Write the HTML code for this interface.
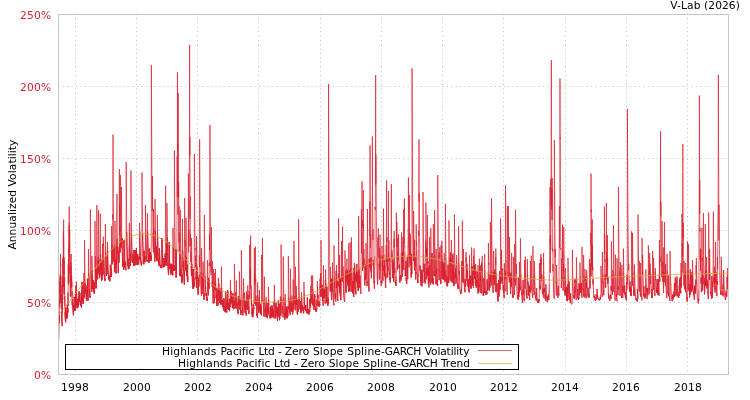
<!DOCTYPE html>
<html lang="en"><head><meta charset="utf-8"><title>Highlands Pacific Ltd - Zero Slope Spline-GARCH Volatility</title>
<style>html,body{margin:0;padding:0;background:#fff;}body{width:750px;height:400px;overflow:hidden;}svg{display:block;}</style>
</head><body>
<svg width="750" height="400" viewBox="0 0 750 400" font-family="'DejaVu Sans', 'Liberation Sans', sans-serif" font-size="10.67px">
<rect width="750" height="400" fill="#fff"/>
<g stroke="#c0c0c0" stroke-width="1" stroke-dasharray="1 3.367" fill="none"><line x1="58.3" y1="302.5" x2="728" y2="302.5"/><line x1="58.3" y1="230.5" x2="728" y2="230.5"/><line x1="58.3" y1="158.5" x2="728" y2="158.5"/><line x1="58.3" y1="86.5" x2="728" y2="86.5"/><line x1="75.5" y1="13.6" x2="75.5" y2="374" stroke-dasharray="1 3.4"/><line x1="136.5" y1="13.6" x2="136.5" y2="374" stroke-dasharray="1 3.4"/><line x1="197.5" y1="13.6" x2="197.5" y2="374" stroke-dasharray="1 3.4"/><line x1="258.5" y1="13.6" x2="258.5" y2="374" stroke-dasharray="1 3.4"/><line x1="320.5" y1="13.6" x2="320.5" y2="374" stroke-dasharray="1 3.4"/><line x1="381.5" y1="13.6" x2="381.5" y2="374" stroke-dasharray="1 3.4"/><line x1="442.5" y1="13.6" x2="442.5" y2="374" stroke-dasharray="1 3.4"/><line x1="503.5" y1="13.6" x2="503.5" y2="374" stroke-dasharray="1 3.4"/><line x1="565.5" y1="13.6" x2="565.5" y2="374" stroke-dasharray="1 3.4"/><line x1="626.5" y1="13.6" x2="626.5" y2="374" stroke-dasharray="1 3.4"/><line x1="687.5" y1="13.6" x2="687.5" y2="374" stroke-dasharray="1 3.4"/></g>
<path d="M58.50 340.0 58.62 339.4 58.74 331.0 58.87 321.5 58.99 318.2 59.11 322.9 59.23 312.8 59.35 320.6 59.47 300.0 59.60 307.3 59.72 281.9 59.84 293.5 59.96 277.3 60.08 303.1 60.20 274.4 60.33 303.3 60.45 254.0 60.57 266.2 60.69 263.9 60.81 285.8 60.93 276.0 61.06 300.1 61.18 285.3 61.30 308.7 61.42 294.3 61.54 314.4 61.67 311.1 61.79 321.6 61.91 323.2 62.03 324.4 62.15 325.4 62.27 326.2 62.40 298.2 62.52 312.2 62.64 278.2 62.76 300.0 62.88 258.8 63.00 293.7 63.13 256.7 63.25 287.2 63.37 231.7 63.49 262.8 63.61 219.6 63.74 235.9 63.86 240.5 63.98 262.3 64.10 257.5 64.22 275.4 64.34 260.7 64.47 294.6 64.59 276.6 64.71 306.4 64.83 295.9 64.95 312.2 65.07 315.7 65.20 317.7 65.32 319.3 65.44 320.5 65.56 321.5 65.68 322.2 65.80 307.3 65.93 312.0 66.05 315.3 66.17 313.6 66.29 316.6 66.41 312.5 66.54 315.8 66.66 318.2 66.78 316.3 66.90 318.5 67.02 310.5 67.14 313.9 67.27 316.6 67.39 303.8 67.51 309.0 67.63 312.9 67.75 308.5 67.87 312.4 68.00 292.5 68.12 305.9 68.24 263.7 68.36 283.1 68.48 258.3 68.61 284.8 68.73 247.4 68.85 257.3 68.97 224.5 69.09 253.8 69.21 206.4 69.34 223.9 69.46 222.8 69.58 252.2 69.70 229.9 69.82 273.2 69.94 254.2 70.07 282.5 70.19 266.1 70.31 296.2 70.43 283.7 70.55 296.7 70.67 274.1 70.80 295.7 70.92 262.6 71.04 288.0 71.16 254.0 71.28 264.9 71.41 271.1 71.53 282.0 71.65 275.7 71.77 287.2 71.89 282.2 72.01 297.8 72.14 291.0 72.26 304.9 72.38 299.2 72.50 306.3 72.62 304.6 72.74 303.1 72.87 307.1 72.99 310.0 73.11 312.0 73.23 313.5 73.35 314.6 73.48 315.3 73.60 305.7 73.72 306.0 73.84 308.9 73.96 310.9 74.08 307.7 74.21 296.9 74.33 299.6 74.45 304.2 74.57 306.9 74.69 308.9 74.81 305.8 74.94 308.5 75.06 310.7 75.18 307.9 75.30 307.1 75.42 308.6 75.54 294.3 75.67 285.5 75.79 291.3 75.91 294.5 76.03 299.6 76.15 302.9 76.28 305.3 76.40 281.6 76.52 290.0 76.64 296.4 76.76 299.3 76.88 303.2 77.01 306.1 77.13 308.2 77.25 304.6 77.37 299.3 77.49 303.0 77.61 305.1 77.74 301.6 77.86 303.2 77.98 305.6 78.10 307.3 78.22 306.8 78.35 304.4 78.47 305.8 78.59 301.8 78.71 296.2 78.83 300.2 78.95 299.3 79.08 291.4 79.20 296.6 79.32 298.3 79.44 301.7 79.56 300.3 79.68 301.7 79.81 293.0 79.93 297.6 80.05 300.3 80.17 302.9 80.29 304.8 80.41 304.2 80.54 305.7 80.66 304.7 80.78 305.9 80.90 300.4 81.02 302.8 81.15 304.6 81.27 305.9 81.39 306.8 81.51 307.5 81.63 292.3 81.75 294.8 81.88 292.9 82.00 282.1 82.12 289.3 82.24 294.7 82.36 298.7 82.48 301.6 82.61 300.6 82.73 296.1 82.85 299.0 82.97 301.8 83.09 303.9 83.22 303.4 83.34 301.7 83.46 302.7 83.58 299.0 83.70 293.8 83.82 281.4 83.95 273.1 84.07 282.2 84.19 288.8 84.31 294.0 84.43 297.8 84.55 240.0 84.68 251.6 84.80 261.4 84.92 269.7 85.04 276.6 85.16 282.3 85.28 287.1 85.41 290.9 85.53 294.0 85.65 287.4 85.77 291.8 85.89 285.6 86.02 291.1 86.14 293.6 86.26 296.9 86.38 299.3 86.50 294.2 86.62 297.2 86.75 299.4 86.87 300.9 86.99 290.8 87.11 294.6 87.23 296.4 87.35 294.1 87.48 278.0 87.60 284.1 87.72 289.4 87.84 293.3 87.96 296.1 88.09 298.1 88.21 299.5 88.33 300.5 88.45 249.0 88.57 258.6 88.69 266.6 88.82 273.3 88.94 278.8 89.06 283.3 89.18 286.9 89.30 289.8 89.42 292.1 89.55 293.9 89.67 295.3 89.79 296.3 89.91 297.1 90.03 295.9 90.15 297.1 90.28 297.9 90.40 209.6 90.52 224.6 90.64 237.4 90.76 248.3 90.89 257.5 91.01 265.2 91.13 271.6 91.25 277.0 91.37 281.3 91.49 284.8 91.62 287.7 91.74 290.0 91.86 291.8 91.98 256.0 92.10 263.9 92.22 270.5 92.35 276.0 92.47 280.4 92.59 284.0 92.71 287.0 92.83 289.3 92.96 281.6 93.08 285.0 93.20 287.7 93.32 280.1 93.44 283.9 93.56 287.5 93.69 290.5 93.81 291.7 93.93 291.0 94.05 292.5 94.17 291.6 94.29 292.3 94.42 293.8 94.54 282.2 94.66 285.0 94.78 288.5 94.90 285.5 95.02 221.0 95.15 263.2 95.27 268.5 95.39 256.1 95.51 273.7 95.63 269.0 95.76 274.9 95.88 279.7 96.00 285.1 96.12 288.4 96.24 274.8 96.36 283.0 96.49 268.6 96.61 244.1 96.73 233.6 96.85 205.0 96.97 233.1 97.09 232.6 97.22 247.1 97.34 260.7 97.46 270.2 97.58 279.3 97.70 270.5 97.83 274.3 97.95 270.2 98.07 257.2 98.19 271.2 98.31 260.9 98.43 210.0 98.56 222.7 98.68 235.7 98.80 252.7 98.92 272.5 99.04 266.7 99.16 270.0 99.29 271.6 99.41 272.9 99.53 278.1 99.65 277.1 99.77 268.4 99.89 269.2 100.02 258.7 100.14 246.1 100.26 213.6 100.38 226.3 100.50 258.1 100.63 254.0 100.75 269.8 100.87 259.3 100.99 274.6 101.11 269.5 101.23 273.4 101.36 276.5 101.48 279.0 101.60 280.9 101.72 263.3 101.84 268.2 101.96 272.1 102.09 272.4 102.21 276.5 102.33 279.5 102.45 244.0 102.57 252.0 102.70 258.6 102.82 264.0 102.94 268.3 103.06 271.8 103.18 274.5 103.30 236.7 103.43 245.7 103.55 243.0 103.67 250.9 103.79 257.5 103.91 262.9 104.03 267.3 104.16 270.8 104.28 273.7 104.40 276.0 104.52 277.9 104.64 279.2 104.76 280.5 104.89 279.1 105.01 278.9 105.13 279.0 105.25 280.5 105.37 224.0 105.50 235.0 105.62 244.3 105.74 252.0 105.86 258.4 105.98 263.6 106.10 267.7 106.23 271.1 106.35 273.7 106.47 275.8 106.59 269.7 106.71 265.5 106.83 270.6 106.96 274.1 107.08 271.7 107.20 256.5 107.32 261.8 107.44 242.0 107.57 249.8 107.69 256.3 107.81 261.5 107.93 265.8 108.05 269.2 108.17 271.9 108.30 274.1 108.42 275.8 108.54 277.2 108.66 278.4 108.78 279.3 108.90 279.4 109.03 280.1 109.15 278.4 109.27 276.7 109.39 278.5 109.51 278.5 109.63 279.6 109.76 280.5 109.88 281.3 110.00 275.8 110.12 275.4 110.24 277.3 110.37 264.8 110.49 268.0 110.61 272.3 110.73 274.3 110.85 267.4 110.97 271.8 111.10 274.7 111.22 273.6 111.34 276.1 111.46 276.9 111.58 226.0 111.70 236.3 111.83 244.9 111.95 252.0 112.07 264.3 112.19 260.1 112.31 256.0 112.43 248.7 112.56 236.5 112.68 214.4 112.80 219.1 112.92 182.0 113.04 134.6 113.17 176.0 113.29 199.6 113.41 201.8 113.53 222.7 113.65 234.4 113.77 255.6 113.90 261.4 114.02 246.8 114.14 260.1 114.26 256.1 114.38 267.0 114.50 272.1 114.63 258.6 114.75 260.0 114.87 244.7 114.99 221.0 115.11 233.8 115.24 259.4 115.36 259.3 115.48 262.5 115.60 264.2 115.72 262.7 115.84 266.7 115.97 273.2 116.09 273.5 116.21 267.0 116.33 267.6 116.45 264.8 116.57 242.7 116.70 236.1 116.82 235.2 116.94 194.0 117.06 227.2 117.18 238.8 117.30 249.7 117.43 247.9 117.55 249.7 117.67 252.8 117.79 251.2 117.91 259.5 118.04 263.5 118.16 263.6 118.28 272.7 118.40 268.6 118.52 263.4 118.64 258.5 118.77 251.8 118.89 262.5 119.01 248.1 119.13 246.8 119.25 236.0 119.37 169.0 119.50 235.0 119.62 202.9 119.74 227.1 119.86 244.6 119.98 251.5 120.11 252.4 120.23 242.3 120.35 175.0 120.47 214.8 120.59 232.2 120.71 234.4 120.84 244.7 120.96 242.1 121.08 246.9 121.20 241.0 121.32 247.6 121.44 187.0 121.57 206.1 121.69 239.8 121.81 243.1 121.93 238.0 122.05 240.1 122.17 246.8 122.30 252.2 122.42 256.6 122.54 260.0 122.66 262.7 122.78 264.8 122.91 266.5 123.03 260.4 123.15 262.7 123.27 265.4 123.39 267.0 123.51 268.5 123.64 268.6 123.76 269.8 123.88 266.7 124.00 240.0 124.12 246.5 124.24 251.8 124.37 256.2 124.49 259.7 124.61 262.5 124.73 264.8 124.85 266.5 124.98 261.8 125.10 265.1 125.22 267.6 125.34 261.9 125.46 265.3 125.58 267.8 125.71 268.2 125.83 269.8 125.95 270.0 126.07 270.3 126.19 162.0 126.31 180.9 126.44 197.1 126.56 210.8 126.68 222.4 126.80 232.0 126.92 240.0 127.04 246.6 127.17 250.1 127.29 254.8 127.41 258.6 127.53 261.7 127.65 264.1 127.78 266.0 127.90 258.6 128.02 262.7 128.14 265.3 128.26 267.6 128.38 269.1 128.51 262.1 128.63 264.7 128.75 265.4 128.87 266.8 128.99 268.5 129.11 267.7 129.24 245.6 129.36 223.0 129.48 232.4 129.60 240.2 129.72 246.6 129.85 251.8 129.97 256.1 130.09 259.4 130.21 262.2 130.33 264.3 130.45 266.0 130.58 253.8 130.70 257.6 130.82 261.1 130.94 170.4 131.06 187.9 131.18 202.7 131.31 215.2 131.43 225.6 131.55 234.3 131.67 241.4 131.79 247.2 131.91 251.9 132.04 255.6 132.16 258.6 132.28 260.9 132.40 262.8 132.52 254.5 132.65 257.3 132.77 260.5 132.89 263.0 133.01 256.6 133.13 257.9 133.25 261.0 133.38 262.5 133.50 262.8 133.62 264.0 133.74 265.2 133.86 266.0 133.98 250.0 134.11 253.9 134.23 257.0 134.35 259.5 134.47 261.5 134.59 263.0 134.72 264.3 134.84 265.3 134.96 263.5 135.08 265.0 135.20 263.2 135.32 261.5 135.45 250.4 135.57 255.7 135.69 259.4 135.81 260.8 135.93 263.2 136.05 264.8 136.18 259.6 136.30 257.8 136.42 248.0 136.54 252.1 136.66 255.5 136.78 258.1 136.91 260.2 137.03 261.8 137.15 263.1 137.27 264.0 137.39 264.8 137.52 264.9 137.64 254.0 137.76 255.8 137.88 257.8 138.00 260.5 138.12 262.4 138.25 263.8 138.37 264.1 138.49 263.6 138.61 264.5 138.73 261.5 138.85 258.1 138.98 257.0 139.10 258.8 139.22 258.1 139.34 256.6 139.46 259.5 139.59 223.0 139.71 231.4 139.83 238.4 139.95 244.1 140.07 248.7 140.19 252.4 140.32 255.3 140.44 257.7 140.56 259.6 140.68 261.0 140.80 262.2 140.92 263.1 141.05 263.9 141.17 264.6 141.29 265.1 141.41 265.5 141.53 262.8 141.65 264.0 141.78 262.9 141.90 260.4 142.02 172.4 142.14 189.1 142.26 203.3 142.39 215.2 142.51 225.2 142.63 233.5 142.75 240.4 142.87 246.0 142.99 250.2 143.12 254.2 143.24 256.7 143.36 258.8 143.48 261.5 143.60 262.8 143.72 263.1 143.85 264.3 143.97 262.4 144.09 250.8 144.21 254.4 144.33 255.3 144.46 256.2 144.58 259.0 144.70 259.0 144.82 260.7 144.94 262.2 145.06 261.0 145.19 256.0 145.31 258.7 145.43 205.0 145.55 216.2 145.67 225.5 145.79 233.1 145.92 239.3 146.04 244.5 146.16 248.7 146.28 252.0 146.40 254.8 146.52 256.9 146.65 258.6 146.77 260.0 146.89 261.1 147.01 260.0 147.13 261.1 147.26 261.7 147.38 213.0 147.50 222.9 147.62 231.1 147.74 237.9 147.86 243.4 147.99 247.9 148.11 251.5 148.23 253.3 148.35 255.7 148.47 258.5 148.59 260.0 148.72 261.2 148.84 262.1 148.96 262.9 149.08 255.6 149.20 258.5 149.33 248.5 149.45 253.1 149.57 255.4 149.69 257.1 149.81 259.6 149.93 261.2 150.06 257.3 150.18 252.3 150.30 253.4 150.42 257.0 150.54 257.3 150.66 253.6 150.79 257.2 150.91 258.8 151.03 256.1 151.15 258.8 151.27 260.8 151.39 65.0 151.52 96.4 151.64 123.5 151.76 146.9 151.88 167.0 152.00 184.1 152.13 198.7 152.25 210.9 152.37 176.0 152.49 191.8 152.61 205.1 152.73 216.3 152.86 225.6 152.98 233.3 153.10 239.6 153.22 244.7 153.34 248.8 153.46 252.2 153.59 209.0 153.71 219.6 153.83 228.5 153.95 235.8 154.07 241.8 154.20 246.8 154.32 250.7 154.44 254.0 154.56 256.6 154.68 258.7 154.80 260.0 154.93 261.7 155.05 199.1 155.17 211.5 155.29 222.0 155.41 230.7 155.53 237.9 155.66 243.8 155.78 248.7 155.90 252.6 156.02 255.7 156.14 258.3 156.26 246.4 156.39 250.8 156.51 254.4 156.63 257.3 156.75 259.6 156.87 258.1 157.00 261.1 157.12 249.4 157.24 254.8 157.36 215.0 157.48 225.2 157.60 233.6 157.73 240.6 157.85 246.4 157.97 251.1 158.09 254.1 158.21 257.9 158.33 260.4 158.46 262.3 158.58 263.9 158.70 264.1 158.82 264.7 158.94 264.6 159.07 265.8 159.19 265.8 159.31 256.7 159.43 248.1 159.55 249.4 159.67 255.0 159.80 259.3 159.92 261.0 160.04 263.6 160.16 265.5 160.28 266.2 160.40 267.4 160.53 267.5 160.65 267.0 160.77 267.7 160.89 268.1 161.01 265.1 161.13 266.7 161.26 265.7 161.38 267.0 161.50 265.3 161.62 266.4 161.74 266.9 161.87 267.6 161.99 238.0 162.11 244.4 162.23 249.6 162.35 253.8 162.47 257.2 162.60 259.9 162.72 262.1 162.84 263.8 162.96 265.1 163.08 266.2 163.20 267.0 163.33 267.2 163.45 264.8 163.57 265.0 163.69 266.7 163.81 266.6 163.93 258.2 164.06 262.0 164.18 264.8 164.30 266.8 164.42 264.0 164.54 265.0 164.67 259.6 164.79 263.1 164.91 266.0 165.03 265.3 165.15 253.5 165.27 255.3 165.40 260.5 165.52 264.4 165.64 185.6 165.76 201.2 165.88 214.5 166.00 225.8 166.13 235.2 166.25 243.0 166.37 249.5 166.49 254.9 166.61 259.3 166.74 262.9 166.86 265.8 166.98 203.0 167.10 216.3 167.22 227.6 167.34 237.1 167.47 245.0 167.59 251.5 167.71 257.0 167.83 261.4 167.95 265.0 168.07 268.0 168.20 270.4 168.32 272.4 168.44 274.0 168.56 275.0 168.68 266.6 168.80 265.9 168.93 261.6 169.05 252.4 169.17 242.0 169.29 249.1 169.41 254.9 169.54 259.6 169.66 263.4 169.78 266.5 169.90 268.9 170.02 263.9 170.14 267.8 170.27 268.2 170.39 269.8 170.51 271.8 170.63 271.9 170.75 273.4 170.87 274.5 171.00 272.3 171.12 269.1 171.24 267.2 171.36 263.8 171.48 268.1 171.61 271.2 171.73 271.1 171.85 266.8 171.97 270.4 172.09 272.2 172.21 274.1 172.34 264.8 172.46 269.4 172.58 272.8 172.70 275.3 172.82 273.3 172.94 228.0 173.07 238.1 173.19 246.6 173.31 253.7 173.43 259.5 173.55 264.1 173.67 267.9 173.80 270.9 173.92 266.4 174.04 271.0 174.16 265.9 174.28 265.1 174.41 150.6 174.53 172.1 174.65 190.6 174.77 206.5 174.89 220.0 175.01 231.4 175.14 241.0 175.26 249.0 175.38 255.6 175.50 261.0 175.62 265.5 175.74 269.0 175.87 270.6 175.99 266.4 176.11 277.5 176.23 272.0 176.35 273.4 176.48 267.8 176.60 249.3 176.72 250.6 176.84 237.7 176.96 231.1 177.08 178.6 177.21 156.1 177.33 196.9 177.45 72.4 177.57 150.8 177.69 143.9 177.81 195.6 177.94 214.6 178.06 198.7 178.18 93.0 178.30 167.8 178.42 190.1 178.54 197.8 178.67 181.9 178.79 210.4 178.91 242.4 179.03 206.0 179.15 252.2 179.28 232.4 179.40 253.6 179.52 253.8 179.64 256.3 179.76 275.2 179.88 275.4 180.01 269.6 180.13 273.3 180.25 276.4 180.37 210.0 180.49 223.7 180.61 235.4 180.74 245.3 180.86 253.7 180.98 260.5 181.10 266.0 181.22 270.6 181.35 274.0 181.47 277.2 181.59 279.6 181.71 281.4 181.83 282.9 181.95 283.1 182.08 274.5 182.20 277.5 182.32 280.7 182.44 219.0 182.56 231.3 182.68 241.8 182.81 250.5 182.93 257.8 183.05 258.9 183.17 266.9 183.29 265.7 183.41 270.3 183.54 261.5 183.66 264.1 183.78 270.7 183.90 275.4 184.02 278.9 184.15 281.5 184.27 283.4 184.39 284.6 184.51 272.0 184.63 198.0 184.75 213.4 184.88 226.4 185.00 237.5 185.12 246.7 185.24 240.1 185.36 248.9 185.48 256.2 185.61 262.3 185.73 267.2 185.85 271.2 185.97 218.0 186.09 230.4 186.22 241.0 186.34 249.8 186.46 257.2 186.58 263.4 186.70 268.5 186.82 272.4 186.95 276.1 187.07 264.4 187.19 271.3 187.31 276.2 187.43 280.0 187.55 278.7 187.68 281.9 187.80 281.5 187.92 275.6 188.04 246.5 188.16 234.9 188.28 219.3 188.41 173.6 188.53 193.5 188.65 252.4 188.77 242.6 188.89 229.6 189.02 246.3 189.14 215.0 189.26 203.4 189.38 159.7 189.50 110.8 189.62 45.0 189.75 155.9 189.87 136.9 189.99 152.4 190.11 218.4 190.23 196.3 190.35 246.4 190.48 233.9 190.60 246.5 190.72 262.0 190.84 251.7 190.96 258.7 191.09 259.2 191.21 266.0 191.33 269.6 191.45 275.8 191.57 238.0 191.69 248.3 191.82 256.9 191.94 264.1 192.06 270.1 192.18 275.1 192.30 279.1 192.42 282.4 192.55 284.6 192.67 285.4 192.79 286.3 192.91 288.9 193.03 269.1 193.15 274.3 193.28 278.6 193.40 282.1 193.52 285.0 193.64 287.4 193.76 278.0 193.89 283.2 194.01 287.1 194.13 282.6 194.25 281.6 194.37 154.0 194.49 176.4 194.62 195.9 194.74 212.7 194.86 227.2 194.98 239.6 195.10 250.2 195.22 248.4 195.35 261.2 195.47 255.9 195.59 267.1 195.71 265.1 195.83 262.1 195.96 271.9 196.08 279.3 196.20 277.1 196.32 283.0 196.44 287.7 196.56 236.0 196.69 247.3 196.81 256.8 196.93 264.8 197.05 266.2 197.17 272.3 197.29 271.2 197.42 278.9 197.54 276.9 197.66 279.9 197.78 285.5 197.90 289.7 198.02 292.8 198.15 294.5 198.27 285.7 198.39 289.8 198.51 277.9 198.63 281.1 198.76 286.4 198.88 285.9 199.00 282.7 199.12 279.5 199.24 274.4 199.36 255.3 199.49 267.2 199.61 139.2 199.73 164.0 199.85 185.5 199.97 204.3 200.09 220.5 200.22 234.4 200.34 246.3 200.46 256.4 200.58 265.0 200.70 272.2 200.83 278.2 200.95 283.2 201.07 287.3 201.19 290.7 201.31 293.4 201.43 295.6 201.56 248.0 201.68 258.0 201.80 266.5 201.92 273.6 202.04 279.5 202.16 284.0 202.29 288.5 202.41 281.9 202.53 276.2 202.65 283.9 202.77 289.6 202.89 294.0 203.02 261.9 203.14 261.9 203.26 273.0 203.38 281.5 203.50 287.6 203.63 292.3 203.75 295.8 203.87 295.5 203.99 298.1 204.11 299.9 204.23 292.5 204.36 215.0 204.48 229.8 204.60 242.4 204.72 253.2 204.84 262.3 204.96 269.9 205.09 272.4 205.21 276.4 205.33 283.6 205.45 288.9 205.57 287.0 205.70 290.8 205.82 292.7 205.94 295.6 206.06 294.5 206.18 294.6 206.30 295.3 206.43 293.0 206.55 295.6 206.67 297.9 206.79 299.6 206.91 300.9 207.03 297.6 207.16 299.5 207.28 300.7 207.40 260.0 207.52 268.2 207.64 275.0 207.76 280.8 207.89 285.5 208.01 289.4 208.13 292.7 208.25 295.4 208.37 294.5 208.50 283.8 208.62 288.5 208.74 277.9 208.86 282.4 208.98 288.8 209.10 280.8 209.23 262.7 209.35 266.1 209.47 234.4 209.59 249.6 209.71 205.0 209.83 162.2 209.96 125.0 210.08 155.5 210.20 177.1 210.32 195.5 210.44 236.5 210.57 266.8 210.69 262.2 210.81 265.4 210.93 275.1 211.05 271.3 211.17 267.7 211.30 271.7 211.42 227.0 211.54 244.2 211.66 261.2 211.78 266.1 211.90 271.4 212.03 275.4 212.15 281.8 212.27 287.2 212.39 261.0 212.51 273.1 212.63 278.1 212.76 286.5 212.88 292.7 213.00 297.5 213.12 301.1 213.24 303.6 213.37 269.0 213.49 276.5 213.61 282.8 213.73 288.0 213.85 292.3 213.97 292.8 214.10 297.5 214.22 296.8 214.34 300.4 214.46 300.5 214.58 303.1 214.70 273.0 214.83 282.5 214.95 284.3 215.07 290.1 215.19 284.1 215.31 285.0 215.43 269.0 215.56 276.4 215.68 282.6 215.80 287.7 215.92 292.0 216.04 294.1 216.17 298.4 216.29 293.8 216.41 293.8 216.53 298.3 216.65 301.6 216.77 304.1 216.90 305.9 217.02 288.0 217.14 294.1 217.26 298.7 217.38 300.8 217.50 300.8 217.63 301.4 217.75 304.0 217.87 303.6 217.99 305.7 218.11 292.7 218.24 289.7 218.36 278.0 218.48 284.3 218.60 289.5 218.72 293.9 218.84 297.5 218.97 300.4 219.09 283.3 219.21 288.8 219.33 294.5 219.45 289.2 219.57 293.7 219.70 297.4 219.82 300.4 219.94 302.9 220.06 288.5 220.18 294.8 220.30 299.3 220.43 303.1 220.55 292.4 220.67 297.3 220.79 301.6 220.91 304.8 221.04 300.4 221.16 304.1 221.28 299.1 221.40 266.6 221.52 275.1 221.64 282.2 221.77 288.2 221.89 293.2 222.01 297.4 222.13 300.8 222.25 303.7 222.37 304.2 222.50 307.2 222.62 305.7 222.74 303.0 222.86 300.4 222.98 304.6 223.11 303.9 223.23 307.2 223.35 305.4 223.47 308.3 223.59 309.6 223.71 308.4 223.84 310.5 223.96 298.3 224.08 302.6 224.20 306.4 224.32 309.1 224.44 306.7 224.57 309.4 224.69 307.4 224.81 310.0 224.93 311.6 225.05 306.4 225.17 308.0 225.30 310.3 225.42 312.2 225.54 309.8 225.66 311.9 225.78 291.6 225.91 297.5 226.03 301.4 226.15 304.0 226.27 307.3 226.39 307.7 226.51 309.9 226.64 311.6 226.76 312.5 226.88 303.1 227.00 306.2 227.12 307.0 227.24 299.6 227.37 303.9 227.49 307.0 227.61 309.0 227.73 290.4 227.85 296.8 227.98 301.0 228.10 303.8 228.22 306.4 228.34 308.3 228.46 310.0 228.58 303.6 228.71 302.7 228.83 305.7 228.95 308.1 229.07 309.3 229.19 309.3 229.31 307.5 229.44 309.6 229.56 311.2 229.68 306.8 229.80 298.8 229.92 300.2 230.04 303.5 230.17 306.8 230.29 299.6 230.41 280.0 230.53 286.6 230.65 292.1 230.78 296.6 230.90 300.4 231.02 303.6 231.14 290.8 231.26 296.6 231.38 293.8 231.51 298.0 231.63 303.1 231.75 301.0 231.87 297.4 231.99 298.5 232.11 303.6 232.24 305.8 232.36 307.6 232.48 305.8 232.60 306.2 232.72 305.6 232.85 308.1 232.97 293.3 233.09 293.9 233.21 299.4 233.33 304.5 233.45 307.7 233.58 305.6 233.70 308.9 233.82 306.1 233.94 309.1 234.06 304.4 234.18 301.1 234.31 305.4 234.43 264.0 234.55 273.1 234.67 280.8 234.79 287.2 234.91 292.6 235.04 297.0 235.16 300.6 235.28 303.5 235.40 305.8 235.52 307.6 235.65 292.0 235.77 298.0 235.89 300.8 236.01 302.4 236.13 306.0 236.25 308.7 236.38 280.5 236.50 287.0 236.62 292.5 236.74 296.4 236.86 299.8 236.98 304.0 237.11 304.9 237.23 304.5 237.35 307.9 237.47 310.4 237.59 309.2 237.72 309.2 237.84 311.1 237.96 312.9 238.08 314.2 238.20 302.1 238.32 304.4 238.45 296.2 238.57 296.7 238.69 297.6 238.81 300.4 238.93 299.8 239.05 301.7 239.18 306.1 239.30 309.5 239.42 271.6 239.54 279.9 239.66 286.9 239.78 292.8 239.91 297.7 240.03 301.8 240.15 305.2 240.27 300.4 240.39 304.4 240.52 308.4 240.64 310.7 240.76 313.1 240.88 314.8 241.00 313.3 241.12 310.3 241.25 312.8 241.37 250.2 241.49 261.8 241.61 271.7 241.73 280.2 241.85 287.4 241.98 293.5 242.10 298.7 242.22 302.9 242.34 306.5 242.46 307.7 242.59 310.4 242.71 313.5 242.83 315.4 242.95 313.0 243.07 311.5 243.19 309.2 243.32 294.3 243.44 297.5 243.56 278.6 243.68 286.2 243.80 292.7 243.92 298.0 244.05 301.5 244.17 306.2 244.29 309.3 244.41 292.6 244.53 300.0 244.65 300.3 244.78 301.5 244.90 305.0 245.02 309.4 245.14 312.8 245.26 301.0 245.39 306.5 245.51 310.3 245.63 313.4 245.75 306.9 245.87 310.9 245.99 313.8 246.12 313.4 246.24 315.6 246.36 291.4 246.48 296.9 246.60 301.5 246.72 305.3 246.85 308.4 246.97 294.1 247.09 300.6 247.21 303.4 247.33 305.9 247.46 310.0 247.58 307.6 247.70 285.5 247.82 291.9 247.94 297.3 248.06 301.7 248.19 294.9 248.31 299.7 248.43 303.7 248.55 307.0 248.67 309.7 248.79 311.9 248.92 313.7 249.04 306.0 249.16 290.5 249.28 298.7 249.40 285.0 249.52 274.3 249.65 245.0 249.77 256.6 249.89 278.8 250.01 277.9 250.13 284.3 250.26 288.8 250.38 268.6 250.50 286.0 250.62 235.6 250.74 256.7 250.86 289.2 250.99 292.2 251.11 299.4 251.23 285.6 251.35 299.6 251.47 305.9 251.59 300.8 251.72 306.0 251.84 312.5 251.96 314.3 252.08 312.3 252.20 312.7 252.33 317.1 252.45 314.2 252.57 309.1 252.69 310.4 252.81 316.1 252.93 317.1 253.06 308.1 253.18 312.2 253.30 304.4 253.42 307.5 253.54 313.3 253.66 306.8 253.79 309.2 253.91 295.5 254.03 292.5 254.15 278.0 254.27 270.4 254.39 248.0 254.52 284.6 254.64 274.0 254.76 279.3 254.88 303.9 255.00 301.0 255.13 292.6 255.25 271.4 255.37 246.6 255.49 274.8 255.61 281.8 255.73 279.1 255.86 305.8 255.98 299.1 256.10 295.8 256.22 300.8 256.34 304.9 256.46 308.2 256.59 310.9 256.71 313.0 256.83 314.7 256.95 316.1 257.07 313.5 257.20 315.5 257.32 317.0 257.44 317.7 257.56 282.6 257.68 289.5 257.80 295.2 257.93 299.9 258.05 303.8 258.17 307.0 258.29 309.5 258.41 302.2 258.53 307.1 258.66 309.9 258.78 312.8 258.90 296.5 259.02 302.4 259.14 307.3 259.26 310.5 259.39 290.0 259.51 295.7 259.63 300.4 259.75 304.3 259.87 307.6 260.00 310.2 260.12 312.4 260.24 303.9 260.36 308.1 260.48 311.6 260.60 314.2 260.73 309.4 260.85 307.5 260.97 310.8 261.09 305.8 261.21 309.9 261.33 313.1 261.46 315.4 261.58 255.0 261.70 266.1 261.82 275.6 261.94 283.7 262.07 290.5 262.19 296.3 262.31 301.2 262.43 238.0 262.55 251.4 262.67 263.1 262.80 273.1 262.92 281.6 263.04 288.9 263.16 295.0 263.28 300.2 263.40 304.5 263.53 308.0 263.65 310.2 263.77 313.2 263.89 315.0 264.01 316.5 264.13 314.4 264.26 310.3 264.38 276.6 264.50 284.6 264.62 291.4 264.74 297.1 264.87 301.9 264.99 305.8 265.11 309.1 265.23 311.7 265.35 307.6 265.47 311.6 265.60 314.6 265.72 316.7 265.84 314.5 265.96 314.7 266.08 297.3 266.20 302.1 266.33 306.0 266.45 309.2 266.57 311.9 266.69 314.0 266.81 315.8 266.93 317.2 267.06 313.7 267.18 316.2 267.30 318.0 267.42 318.2 267.54 305.5 267.67 302.9 267.79 307.0 267.91 311.3 268.03 307.7 268.15 311.5 268.27 314.5 268.40 287.0 268.52 293.4 268.64 298.8 268.76 303.2 268.88 306.9 269.00 308.0 269.13 311.8 269.25 314.1 269.37 315.8 269.49 317.1 269.61 315.1 269.74 316.9 269.86 316.9 269.98 317.1 270.10 318.4 270.22 316.4 270.34 315.9 270.47 306.6 270.59 310.6 270.71 311.4 270.83 314.2 270.95 316.3 271.07 317.9 271.20 311.5 271.32 309.4 271.44 312.9 271.56 315.5 271.68 312.6 271.80 315.3 271.93 305.3 272.05 309.9 272.17 307.1 272.29 309.9 272.41 313.3 272.54 316.0 272.66 317.2 272.78 308.8 272.90 309.1 273.02 313.0 273.14 315.9 273.27 310.1 273.39 313.3 273.51 314.2 273.63 316.8 273.75 315.6 273.87 317.8 274.00 318.3 274.12 301.5 274.24 307.2 274.36 285.0 274.48 291.8 274.61 297.6 274.73 302.4 274.85 306.4 274.97 309.7 275.09 312.4 275.21 314.6 275.34 316.3 275.46 316.0 275.58 318.0 275.70 318.4 275.82 310.4 275.94 314.0 276.07 302.8 276.19 304.9 276.31 309.7 276.43 306.0 276.55 310.4 276.67 314.2 276.80 308.2 276.92 310.8 277.04 314.6 277.16 316.9 277.28 316.6 277.41 319.0 277.53 320.8 277.65 308.8 277.77 307.2 277.89 310.8 278.01 313.8 278.14 315.0 278.26 309.7 278.38 300.5 278.50 307.0 278.62 311.9 278.74 314.1 278.87 316.6 278.99 313.1 279.11 311.7 279.23 315.4 279.35 318.2 279.48 320.2 279.60 316.3 279.72 318.8 279.84 303.7 279.96 308.0 280.08 311.4 280.21 308.5 280.33 296.4 280.45 301.7 280.57 307.8 280.69 312.3 280.81 315.7 280.94 303.1 281.06 244.6 281.18 257.4 281.30 268.4 281.42 277.8 281.54 285.9 281.67 292.7 281.79 298.5 281.91 303.3 282.03 307.3 282.15 310.5 282.28 313.2 282.40 312.8 282.52 307.8 282.64 306.5 282.76 307.4 282.88 311.8 283.01 315.0 283.13 317.4 283.25 256.4 283.37 267.5 283.49 277.0 283.61 285.1 283.74 292.0 283.86 297.8 283.98 302.7 284.10 306.8 284.22 310.1 284.35 312.9 284.47 315.1 284.59 317.0 284.71 318.4 284.83 319.6 284.95 312.2 285.08 315.5 285.20 293.9 285.32 300.6 285.44 306.7 285.56 311.2 285.68 314.2 285.81 315.1 285.93 317.6 286.05 314.8 286.17 306.7 286.29 307.7 286.41 311.6 286.54 309.1 286.66 313.0 286.78 315.8 286.90 315.6 287.02 316.6 287.15 318.4 287.27 313.5 287.39 308.8 287.51 311.7 287.63 313.0 287.75 315.6 287.88 316.4 288.00 308.0 288.12 306.2 288.24 309.3 288.36 256.2 288.48 267.2 288.61 276.6 288.73 284.6 288.85 291.5 288.97 297.2 289.09 302.0 289.22 300.6 289.34 305.9 289.46 310.5 289.58 312.8 289.70 306.4 289.82 302.7 289.95 307.8 290.07 311.8 290.19 315.0 290.31 314.4 290.43 268.6 290.55 277.9 290.68 285.9 290.80 292.7 290.92 298.3 291.04 303.0 291.16 306.8 291.28 310.0 291.41 304.1 291.53 307.5 291.65 311.6 291.77 303.5 291.89 300.7 292.02 295.7 292.14 302.6 292.26 305.4 292.38 309.9 292.50 311.4 292.62 314.3 292.75 307.6 292.87 309.4 292.99 312.2 293.11 279.7 293.23 287.1 293.35 293.3 293.48 298.5 293.60 302.9 293.72 306.5 293.84 309.5 293.96 241.0 294.09 254.0 294.21 265.2 294.33 274.7 294.45 282.9 294.57 289.9 294.69 295.7 294.82 300.6 294.94 304.6 295.06 301.5 295.18 306.3 295.30 310.4 295.42 266.6 295.55 276.0 295.67 284.0 295.79 290.8 295.91 296.4 296.03 301.0 296.15 304.8 296.28 286.1 296.40 291.2 296.52 297.6 296.64 301.9 296.76 305.4 296.89 308.2 297.01 310.5 297.13 312.3 297.25 313.7 297.37 313.3 297.49 314.8 297.62 300.3 297.74 305.1 297.86 308.8 297.98 309.2 298.10 311.7 298.22 298.6 298.35 298.1 298.47 299.2 298.59 219.4 298.71 235.0 298.83 248.5 298.96 260.2 299.08 270.2 299.20 278.8 299.32 286.1 299.44 292.2 299.56 297.3 299.69 301.6 299.81 305.1 299.93 308.0 300.05 309.4 300.17 301.8 300.29 302.1 300.42 301.1 300.54 305.6 300.66 306.9 300.78 310.5 300.90 312.8 301.02 310.0 301.15 312.5 301.27 310.1 301.39 303.1 301.51 292.1 301.63 298.9 301.76 298.4 301.88 302.5 302.00 306.7 302.12 309.3 302.24 306.3 302.36 305.0 302.49 308.3 302.61 310.2 302.73 306.8 302.85 308.8 302.97 310.6 303.09 307.3 303.22 309.7 303.34 311.0 303.46 312.3 303.58 313.3 303.70 311.8 303.83 312.1 303.95 282.0 304.07 288.2 304.19 293.4 304.31 296.0 304.43 300.6 304.56 304.0 304.68 306.2 304.80 308.1 304.92 309.3 305.04 308.1 305.16 309.9 305.29 305.0 305.41 307.8 305.53 305.2 305.65 306.4 305.77 305.5 305.89 308.2 306.02 310.1 306.14 311.4 306.26 309.3 306.38 310.4 306.50 309.0 306.63 310.8 306.75 312.2 306.87 313.2 306.99 312.4 307.11 311.6 307.23 312.8 307.36 297.4 307.48 302.5 307.60 306.3 307.72 309.1 307.84 311.2 307.96 312.7 308.09 313.8 308.21 313.0 308.33 312.2 308.45 309.1 308.57 311.0 308.70 312.4 308.82 313.3 308.94 314.0 309.06 314.4 309.18 314.6 309.30 313.6 309.43 310.5 309.55 311.8 309.67 310.3 309.79 311.6 309.91 299.5 310.03 303.3 310.16 306.0 310.28 298.6 310.40 302.8 310.52 306.0 310.64 307.4 310.76 285.8 310.89 292.6 311.01 297.1 311.13 301.6 311.25 296.2 311.37 275.6 311.50 282.6 311.62 288.5 311.74 293.4 311.86 297.5 311.98 299.8 312.10 303.5 312.23 297.0 312.35 301.6 312.47 305.1 312.59 275.5 312.71 282.5 312.83 289.3 312.96 292.7 313.08 298.4 313.20 302.7 313.32 305.8 313.44 303.6 313.57 304.8 313.69 305.8 313.81 308.0 313.93 309.9 314.05 300.9 314.17 299.4 314.30 303.7 314.42 306.8 314.54 296.7 314.66 294.2 314.78 297.3 314.90 295.7 315.03 300.8 315.15 304.9 315.27 307.8 315.39 309.9 315.51 310.1 315.63 310.9 315.76 308.4 315.88 310.1 316.00 310.9 316.12 311.9 316.24 311.4 316.37 308.5 316.49 309.6 316.61 310.2 316.73 310.2 316.85 299.7 316.97 303.3 317.10 305.8 317.22 305.2 317.34 281.0 317.46 286.7 317.58 291.4 317.70 295.2 317.83 298.2 317.95 295.2 318.07 299.4 318.19 302.0 318.31 304.2 318.43 305.0 318.56 306.0 318.68 304.2 318.80 305.9 318.92 305.3 319.04 306.7 319.17 306.6 319.29 301.5 319.41 303.8 319.53 305.0 319.65 306.1 319.77 304.1 319.90 304.3 320.02 278.6 320.14 286.5 320.26 292.8 320.38 296.8 320.50 273.0 320.63 282.4 320.75 287.6 320.87 285.3 320.99 240.0 321.11 251.9 321.24 262.1 321.36 270.7 321.48 278.0 321.60 284.1 321.72 289.2 321.84 293.4 321.97 296.8 322.09 285.2 322.21 292.0 322.33 297.0 322.45 300.8 322.57 298.3 322.70 288.6 322.82 294.5 322.94 299.0 323.06 302.3 323.18 304.5 323.30 305.8 323.43 265.4 323.55 273.6 323.67 280.5 323.79 286.2 323.91 291.0 324.04 294.9 324.16 298.0 324.28 291.4 324.40 296.7 324.52 289.2 324.64 293.4 324.77 289.6 324.89 295.3 325.01 299.6 325.13 302.7 325.25 303.9 325.37 280.0 325.50 285.8 325.62 269.4 325.74 276.9 325.86 283.2 325.98 288.4 326.11 292.7 326.23 296.2 326.35 294.5 326.47 297.1 326.59 300.7 326.71 302.5 326.84 286.6 326.96 292.8 327.08 295.9 327.20 299.7 327.32 302.5 327.44 299.7 327.57 302.4 327.69 304.4 327.81 305.8 327.93 303.8 328.05 304.1 328.17 298.5 328.30 301.4 328.42 303.4 328.54 84.0 328.66 116.1 328.78 144.1 328.91 168.7 329.03 190.1 329.15 208.7 329.27 224.8 329.39 238.7 329.51 250.6 329.64 260.7 329.76 269.3 329.88 276.6 330.00 282.6 330.12 287.5 330.24 291.6 330.37 267.0 330.49 274.6 330.61 280.9 330.73 286.1 330.85 290.5 330.98 278.9 331.10 281.6 331.22 288.7 331.34 294.1 331.46 297.4 331.58 299.5 331.71 279.1 331.83 285.9 331.95 278.8 332.07 286.6 332.19 285.7 332.31 291.9 332.44 262.6 332.56 270.9 332.68 277.9 332.80 283.8 332.92 288.6 333.04 292.6 333.17 295.9 333.29 298.5 333.41 300.6 333.53 302.2 333.65 303.5 333.78 304.5 333.90 305.3 334.02 245.4 334.14 256.3 334.26 265.5 334.38 273.3 334.51 279.8 334.63 285.2 334.75 289.7 334.87 293.3 334.99 296.2 335.11 295.9 335.24 298.9 335.36 296.3 335.48 293.1 335.60 296.0 335.72 299.2 335.85 301.5 335.97 271.1 336.09 277.7 336.21 283.3 336.33 287.8 336.45 265.0 336.58 272.6 336.70 278.9 336.82 284.1 336.94 288.4 337.06 291.8 337.18 294.6 337.31 296.8 337.43 298.2 337.55 299.8 337.67 300.9 337.79 288.9 337.91 281.6 338.04 286.4 338.16 280.8 338.28 273.5 338.40 279.2 338.52 248.3 338.65 218.4 338.77 257.6 338.89 265.3 339.01 268.3 339.13 272.3 339.25 272.3 339.38 281.6 339.50 288.5 339.62 255.0 339.74 269.7 339.86 282.7 339.98 292.9 340.11 279.6 340.23 291.0 340.35 295.7 340.47 289.1 340.59 300.0 340.72 298.6 340.84 299.6 340.96 295.6 341.08 288.5 341.20 277.2 341.32 280.8 341.45 257.5 341.57 241.0 341.69 271.3 341.81 271.1 341.93 270.6 342.05 279.2 342.18 281.5 342.30 276.5 342.42 265.5 342.54 226.6 342.66 263.2 342.78 274.9 342.91 277.4 343.03 266.4 343.15 273.6 343.27 279.5 343.39 284.3 343.52 288.3 343.64 291.4 343.76 294.0 343.88 296.0 344.00 297.6 344.12 298.8 344.25 299.8 344.37 300.5 344.49 301.1 344.61 301.5 344.73 301.8 344.85 301.5 344.98 250.4 345.10 259.8 345.22 267.7 345.34 274.3 345.46 279.7 345.59 284.1 345.71 287.7 345.83 286.2 345.95 290.4 346.07 292.6 346.19 271.0 346.32 277.4 346.44 280.1 346.56 269.0 346.68 275.5 346.80 280.8 346.92 258.7 347.05 269.5 347.17 278.3 347.29 283.3 347.41 271.3 347.53 279.3 347.65 277.8 347.78 278.9 347.90 285.6 348.02 279.1 348.14 274.0 348.26 280.5 348.39 286.7 348.51 291.2 348.63 291.6 348.75 243.3 348.87 253.8 348.99 262.6 349.12 270.0 349.24 276.2 349.36 281.2 349.48 285.3 349.60 288.6 349.72 291.3 349.85 271.1 349.97 279.2 350.09 285.1 350.21 242.3 350.33 252.7 350.46 261.5 350.58 268.9 350.70 274.9 350.82 280.0 350.94 284.2 351.06 287.7 351.19 290.5 351.31 291.8 351.43 237.4 351.55 248.7 351.67 258.2 351.79 266.3 351.92 273.0 352.04 278.7 352.16 283.3 352.28 286.8 352.40 290.2 352.52 292.7 352.65 289.8 352.77 293.4 352.89 284.3 353.01 281.1 353.13 285.4 353.26 288.9 353.38 290.0 353.50 292.7 353.62 295.4 353.74 296.8 353.86 268.0 353.99 269.3 354.11 277.6 354.23 284.1 354.35 263.0 354.47 270.2 354.59 276.0 354.72 279.5 354.84 285.0 354.96 288.2 355.08 287.0 355.20 290.9 355.33 293.1 355.45 293.5 355.57 290.7 355.69 292.0 355.81 294.3 355.93 273.9 356.06 281.0 356.18 264.4 356.30 273.7 356.42 278.7 356.54 276.1 356.66 272.4 356.79 279.6 356.91 282.3 357.03 264.0 357.15 270.7 357.27 276.3 357.39 280.9 357.52 284.6 357.64 287.6 357.76 273.0 357.88 280.1 358.00 283.4 358.13 287.8 358.25 291.0 358.37 275.4 358.49 271.2 358.61 216.0 358.73 230.0 358.86 241.9 358.98 252.0 359.10 260.5 359.22 267.5 359.34 273.4 359.46 278.1 359.59 282.0 359.71 285.1 359.83 287.6 359.95 275.6 360.07 281.5 360.20 284.3 360.32 287.5 360.44 290.1 360.56 289.9 360.68 291.7 360.80 293.0 360.93 294.0 361.05 261.9 361.17 256.4 361.29 242.9 361.41 209.0 361.53 252.9 361.66 241.4 361.78 248.5 361.90 220.6 362.02 181.4 362.14 226.8 362.26 220.4 362.39 247.7 362.51 262.0 362.63 270.7 362.75 257.6 362.87 258.3 363.00 252.4 363.12 254.4 363.24 215.1 363.36 190.0 363.48 229.0 363.60 224.3 363.73 268.1 363.85 249.3 363.97 265.3 364.09 258.9 364.21 265.9 364.33 271.6 364.46 276.2 364.58 280.0 364.70 283.1 364.82 285.5 364.94 283.0 365.07 278.9 365.19 276.0 365.31 279.6 365.43 265.3 365.55 264.3 365.67 272.0 365.80 278.1 365.92 267.5 366.04 243.0 366.16 252.5 366.28 260.4 366.40 267.1 366.53 272.5 366.65 277.0 366.77 280.7 366.89 282.8 367.01 286.1 367.13 281.7 367.26 282.7 367.38 209.0 367.50 223.7 367.62 236.3 367.74 247.0 367.87 256.0 367.99 263.5 368.11 269.8 368.23 275.0 368.35 279.3 368.47 282.8 368.60 285.7 368.72 288.0 368.84 289.9 368.96 291.4 369.08 287.1 369.20 258.9 369.33 262.5 369.45 267.2 369.57 267.6 369.69 229.3 369.81 201.5 369.93 235.7 370.06 145.4 370.18 196.9 370.30 205.7 370.42 233.5 370.54 248.0 370.67 234.7 370.79 270.6 370.91 257.8 371.03 270.5 371.15 272.6 371.27 270.7 371.40 278.3 371.52 273.6 371.64 271.1 371.76 257.4 371.88 253.8 372.00 239.5 372.13 201.9 372.25 192.9 372.37 136.4 372.49 185.1 372.61 206.3 372.74 207.4 372.86 240.0 372.98 229.0 373.10 246.4 373.22 265.4 373.34 260.0 373.47 262.8 373.59 279.1 373.71 280.2 373.83 280.9 373.95 282.5 374.07 281.3 374.20 284.5 374.32 286.8 374.44 288.7 374.56 281.7 374.68 269.2 374.80 263.3 374.93 256.1 375.05 233.6 375.17 206.9 375.29 210.2 375.41 204.6 375.54 136.2 375.66 75.0 375.78 184.5 375.90 154.6 376.02 155.8 376.14 177.9 376.27 197.0 376.39 213.4 376.51 227.5 376.63 239.4 376.75 249.5 376.87 258.0 377.00 265.0 377.12 270.7 377.24 275.4 377.36 279.1 377.48 282.1 377.61 284.5 377.73 272.2 377.85 237.4 377.97 248.9 378.09 257.6 378.21 251.5 378.34 228.4 378.46 231.7 378.58 247.0 378.70 246.1 378.82 253.7 378.94 263.9 379.07 271.2 379.19 272.2 379.31 273.9 379.43 279.6 379.55 248.0 379.67 256.7 379.80 263.9 379.92 269.9 380.04 234.6 380.16 245.4 380.28 254.6 380.41 262.3 380.53 267.1 380.65 274.0 380.77 276.3 380.89 278.5 381.01 283.0 381.14 282.5 381.26 285.8 381.38 284.5 381.50 280.2 381.62 284.0 381.74 281.3 381.87 282.6 381.99 246.0 382.11 254.7 382.23 261.9 382.35 267.8 382.48 256.8 382.60 266.2 382.72 272.8 382.84 277.8 382.96 280.6 383.08 266.4 383.21 271.1 383.33 270.9 383.45 208.6 383.57 222.9 383.69 235.1 383.81 245.4 383.94 254.1 384.06 261.4 384.18 267.4 384.30 272.3 384.42 276.3 384.54 260.2 384.67 268.7 384.79 265.8 384.91 270.9 385.03 273.2 385.15 274.9 385.28 279.8 385.40 283.4 385.52 286.1 385.64 288.0 385.76 273.6 385.88 278.2 386.01 264.6 386.13 255.4 386.25 244.9 386.37 262.0 386.49 204.6 386.61 180.4 386.74 241.7 386.86 242.6 386.98 237.0 387.10 251.2 387.22 266.1 387.35 258.0 387.47 263.6 387.59 277.5 387.71 275.8 387.83 265.8 387.95 271.3 388.08 268.8 388.20 237.2 388.32 213.7 388.44 191.0 388.56 252.6 388.68 259.4 388.81 251.9 388.93 240.4 389.05 262.0 389.17 257.8 389.29 262.3 389.41 274.5 389.54 272.4 389.66 276.4 389.78 279.1 389.90 280.3 390.02 277.4 390.15 280.7 390.27 282.7 390.39 281.2 390.51 280.1 390.63 275.5 390.75 268.5 390.88 257.9 391.00 251.7 391.12 238.4 391.24 238.1 391.36 184.0 391.48 245.2 391.61 245.5 391.73 255.6 391.85 257.8 391.97 250.3 392.09 253.4 392.22 260.4 392.34 266.2 392.46 271.0 392.58 274.9 392.70 278.1 392.82 270.1 392.95 259.9 393.07 268.3 393.19 262.1 393.31 269.9 393.43 275.7 393.55 278.2 393.68 281.8 393.80 270.6 393.92 238.7 394.04 247.7 394.16 231.0 394.28 245.9 394.41 257.5 394.53 266.3 394.65 273.0 394.77 268.4 394.89 274.4 395.02 278.7 395.14 279.8 395.26 282.9 395.38 281.8 395.50 283.0 395.62 285.1 395.75 283.2 395.87 281.9 395.99 284.1 396.11 285.7 396.23 276.6 396.35 212.6 396.48 226.0 396.60 237.4 396.72 246.9 396.84 221.9 396.96 233.8 397.09 243.9 397.21 252.3 397.33 259.2 397.45 264.9 397.57 269.5 397.69 258.4 397.82 238.0 397.94 250.8 398.06 259.4 398.18 260.2 398.30 256.1 398.42 238.4 398.55 234.0 398.67 236.4 398.79 248.0 398.91 258.4 399.03 264.6 399.15 268.4 399.28 264.6 399.40 269.6 399.52 274.6 399.64 278.2 399.76 280.9 399.89 282.7 400.01 276.7 400.13 276.8 400.25 279.0 400.37 278.5 400.49 280.0 400.62 275.4 400.74 278.3 400.86 280.8 400.98 275.5 401.10 278.8 401.22 253.3 401.35 247.0 401.47 232.4 401.59 241.0 401.71 251.5 401.83 259.5 401.96 267.0 402.08 272.6 402.20 276.7 402.32 255.6 402.44 252.7 402.56 261.9 402.69 268.4 402.81 270.1 402.93 237.0 403.05 250.5 403.17 269.3 403.29 260.4 403.42 241.1 403.54 256.9 403.66 209.0 403.78 240.7 403.90 244.0 404.02 241.2 404.15 236.1 404.27 230.0 404.39 198.6 404.51 220.2 404.63 247.1 404.76 246.4 404.88 252.1 405.00 269.6 405.12 268.5 405.24 275.9 405.36 273.6 405.49 274.2 405.61 270.5 405.73 273.3 405.85 276.0 405.97 261.1 406.09 278.6 406.22 281.0 406.34 277.9 406.46 280.3 406.58 280.7 406.70 284.0 406.83 281.4 406.95 275.7 407.07 273.0 407.19 257.2 407.31 257.3 407.43 267.9 407.56 263.9 407.68 279.2 407.80 266.3 407.92 253.8 408.04 242.2 408.16 229.6 408.29 230.9 408.41 177.4 408.53 212.8 408.65 214.5 408.77 225.1 408.89 245.5 409.02 267.5 409.14 232.6 409.26 247.5 409.38 195.0 409.50 253.2 409.63 258.8 409.75 236.6 409.87 242.0 409.99 265.4 410.11 256.6 410.23 234.0 410.36 243.8 410.48 252.0 410.60 258.7 410.72 264.3 410.84 268.9 410.96 272.7 411.09 275.8 411.21 277.6 411.33 273.0 411.45 275.5 411.57 253.9 411.70 262.4 411.82 269.1 411.94 274.0 412.06 68.4 412.18 101.1 412.30 129.7 412.43 154.5 412.55 176.0 412.67 194.6 412.79 210.6 412.91 224.2 413.03 235.8 413.16 245.5 413.28 253.7 413.40 260.4 413.52 260.8 413.64 211.0 413.76 224.5 413.89 236.0 414.01 245.7 414.13 253.7 414.25 260.4 414.37 265.9 414.50 270.4 414.62 239.8 414.74 252.2 414.86 261.4 414.98 265.6 415.10 258.5 415.23 257.7 415.35 265.9 415.47 271.4 415.59 276.1 415.71 279.5 415.83 276.3 415.96 271.9 416.08 273.8 416.20 224.3 416.32 235.8 416.44 245.5 416.57 242.0 416.69 250.7 416.81 258.0 416.93 264.0 417.05 268.9 417.17 273.0 417.30 276.2 417.42 278.9 417.54 281.0 417.66 282.7 417.78 280.7 417.90 283.1 418.03 280.9 418.15 278.4 418.27 272.4 418.39 248.5 418.51 247.6 418.63 230.9 418.76 235.6 418.88 174.4 419.00 139.4 419.12 201.7 419.24 193.0 419.37 198.3 419.49 228.6 419.61 241.0 419.73 244.2 419.85 269.2 419.97 270.7 420.10 265.6 420.22 271.7 420.34 276.6 420.46 276.2 420.58 278.8 420.70 281.1 420.83 280.0 420.95 285.4 421.07 279.6 421.19 270.1 421.31 279.5 421.43 272.8 421.56 276.0 421.68 281.6 421.80 286.4 421.92 286.5 422.04 269.6 422.17 274.0 422.29 277.5 422.41 276.9 422.53 276.9 422.65 275.0 422.77 279.8 422.90 283.0 423.02 192.0 423.14 208.9 423.26 223.3 423.38 235.5 423.50 245.8 423.63 254.4 423.75 261.6 423.87 267.6 423.99 272.4 424.11 263.8 424.24 269.0 424.36 272.7 424.48 278.0 424.60 281.9 424.72 271.4 424.84 277.0 424.97 278.2 425.09 283.5 425.21 274.3 425.33 270.8 425.45 263.7 425.57 251.1 425.70 240.8 425.82 253.7 425.94 202.6 426.06 224.3 426.18 230.7 426.30 257.1 426.43 247.6 426.55 273.0 426.67 279.3 426.79 267.7 426.91 276.2 427.04 276.4 427.16 248.5 427.28 256.4 427.40 215.0 427.52 228.9 427.64 256.7 427.77 263.8 427.89 261.4 428.01 275.9 428.13 268.1 428.25 269.7 428.37 284.0 428.50 277.9 428.62 284.2 428.74 284.8 428.86 287.4 428.98 285.8 429.11 265.3 429.23 272.8 429.35 278.3 429.47 282.3 429.59 237.0 429.71 247.1 429.84 255.6 429.96 262.6 430.08 268.4 430.20 273.2 430.32 277.0 430.44 280.1 430.57 282.6 430.69 284.6 430.81 227.9 430.93 239.4 431.05 249.0 431.17 257.1 431.30 263.8 431.42 269.4 431.54 273.9 431.66 277.5 431.78 280.5 431.91 282.9 432.03 253.0 432.15 260.4 432.27 266.5 432.39 271.5 432.51 275.6 432.64 278.9 432.76 281.5 432.88 283.6 433.00 278.1 433.12 281.8 433.24 284.6 433.37 224.0 433.49 236.0 433.61 246.2 433.73 250.0 433.85 256.3 433.98 265.8 434.10 270.1 434.22 276.2 434.34 270.9 434.46 275.7 434.58 210.0 434.71 224.2 434.83 236.3 434.95 246.5 435.07 255.1 435.19 262.2 435.31 268.1 435.44 273.0 435.56 276.9 435.68 280.1 435.80 282.7 435.92 284.1 436.04 270.3 436.17 249.0 436.29 260.2 436.41 267.8 436.53 274.2 436.65 268.7 436.78 273.9 436.90 279.0 437.02 282.4 437.14 285.1 437.26 279.9 437.38 283.4 437.51 285.9 437.63 285.6 437.75 175.0 437.87 194.1 437.99 210.5 438.11 224.6 438.24 236.6 438.36 246.7 438.48 255.2 438.60 262.3 438.72 268.2 438.85 273.0 438.97 277.0 439.09 280.2 439.21 272.7 439.33 268.8 439.45 252.3 439.58 257.1 439.70 250.8 439.82 247.1 439.94 249.9 440.06 260.9 440.18 269.5 440.31 275.9 440.43 279.9 440.55 280.5 440.67 284.1 440.79 280.3 440.91 282.9 441.04 245.0 441.16 253.9 441.28 261.2 441.40 265.1 441.52 272.4 441.65 276.4 441.77 279.4 441.89 240.7 442.01 250.2 442.13 258.2 442.25 264.8 442.38 270.2 442.50 274.7 442.62 259.7 442.74 268.4 442.86 274.2 442.98 279.2 443.11 274.5 443.23 276.7 443.35 279.8 443.47 266.3 443.59 273.4 443.72 263.2 443.84 265.4 443.96 272.7 444.08 278.2 444.20 252.8 444.32 263.2 444.45 270.8 444.57 268.8 444.69 275.3 444.81 280.1 444.93 282.2 445.05 270.7 445.18 276.7 445.30 281.1 445.42 204.0 445.54 219.1 445.66 231.9 445.78 242.8 445.91 251.9 446.03 259.5 446.15 265.7 446.27 270.9 446.39 275.1 446.52 278.5 446.64 281.2 446.76 283.3 446.88 285.0 447.00 286.3 447.12 276.6 447.25 280.7 447.37 283.6 447.49 285.8 447.61 286.1 447.73 279.3 447.85 282.6 447.98 264.6 448.10 271.7 448.22 277.0 448.34 279.8 448.46 277.8 448.59 279.8 448.71 283.0 448.83 271.2 448.95 220.4 449.07 232.9 449.19 243.5 449.32 252.4 449.44 259.8 449.56 266.0 449.68 271.1 449.80 275.2 449.92 278.6 450.05 279.1 450.17 280.4 450.29 257.8 450.41 262.1 450.53 252.3 450.65 262.7 450.78 270.7 450.90 271.6 451.02 276.6 451.14 278.6 451.26 281.9 451.39 240.0 451.51 249.8 451.63 258.1 451.75 265.0 451.87 270.7 451.99 275.5 452.12 279.4 452.24 282.6 452.36 269.4 452.48 275.6 452.60 280.2 452.72 254.9 452.85 265.4 452.97 273.6 453.09 253.3 453.21 263.9 453.33 270.2 453.46 277.0 453.58 282.0 453.70 285.7 453.82 284.2 453.94 272.4 454.06 277.8 454.19 282.4 454.31 285.7 454.43 214.4 454.55 228.1 454.67 239.7 454.79 249.5 454.92 257.7 455.04 264.4 455.16 270.0 455.28 274.5 455.40 278.2 455.52 268.7 455.65 275.2 455.77 280.0 455.89 283.6 456.01 283.7 456.13 282.9 456.26 280.6 456.38 275.3 456.50 280.2 456.62 255.0 456.74 262.2 456.86 268.1 456.99 272.9 457.11 276.9 457.23 280.1 457.35 282.6 457.47 284.7 457.59 286.3 457.72 287.6 457.84 288.6 457.96 286.6 458.08 284.8 458.20 287.0 458.33 288.6 458.45 283.5 458.57 226.4 458.69 238.3 458.81 248.3 458.93 256.8 459.06 263.9 459.18 269.7 459.30 274.6 459.42 271.1 459.54 277.3 459.66 281.5 459.79 285.2 459.91 287.9 460.03 289.7 460.15 290.6 460.27 291.8 460.39 292.6 460.52 293.2 460.64 293.8 460.76 294.2 460.88 291.4 461.00 292.7 461.13 291.9 461.25 293.0 461.37 289.7 461.49 291.1 461.61 286.6 461.73 282.8 461.86 261.1 461.98 270.2 462.10 277.4 462.22 282.1 462.34 220.6 462.46 233.8 462.59 245.1 462.71 254.6 462.83 262.7 462.95 269.4 463.07 275.0 463.20 279.5 463.32 283.1 463.44 249.0 463.56 257.8 463.68 265.1 463.80 271.1 463.93 276.0 464.05 280.0 464.17 281.6 464.29 283.8 464.41 286.5 464.53 289.1 464.66 290.5 464.78 289.8 464.90 291.3 465.02 292.3 465.14 279.3 465.26 283.5 465.39 286.6 465.51 280.8 465.63 282.1 465.75 285.6 465.87 283.0 466.00 252.0 466.12 262.5 466.24 257.1 466.36 266.1 466.48 270.1 466.60 274.8 466.73 280.5 466.85 280.5 466.97 263.7 467.09 267.9 467.21 275.6 467.33 271.2 467.46 271.3 467.58 271.7 467.70 278.4 467.82 283.2 467.94 286.5 468.07 279.8 468.19 284.7 468.31 288.3 468.43 289.3 468.55 291.6 468.67 279.1 468.80 282.7 468.92 285.7 469.04 288.1 469.16 290.0 469.28 291.5 469.40 292.7 469.53 255.4 469.65 262.7 469.77 271.4 469.89 278.3 470.01 283.5 470.13 275.8 470.26 281.7 470.38 283.3 470.50 287.2 470.62 287.5 470.74 285.0 470.87 275.8 470.99 281.6 471.11 285.8 471.23 288.9 471.35 286.1 471.47 283.1 471.60 247.4 471.72 256.4 471.84 261.9 471.96 270.2 472.08 266.0 472.20 273.3 472.33 279.6 472.45 282.7 472.57 281.3 472.69 285.4 472.81 271.2 472.93 275.2 473.06 280.6 473.18 283.2 473.30 286.4 473.42 285.0 473.54 287.9 473.67 255.8 473.79 266.4 473.91 274.7 474.03 248.4 474.15 258.2 474.27 267.4 474.40 275.6 474.52 273.5 474.64 278.3 474.76 265.1 474.88 274.0 475.00 278.9 475.13 276.6 475.25 282.9 475.37 282.2 475.49 285.7 475.61 264.0 475.74 270.9 475.86 276.5 475.98 281.1 476.10 284.9 476.22 287.9 476.34 286.8 476.47 282.5 476.59 282.1 476.71 280.1 476.83 285.2 476.95 284.5 477.07 271.4 477.20 276.4 477.32 282.7 477.44 282.3 477.56 284.2 477.68 288.5 477.80 291.6 477.93 293.8 478.05 265.1 478.17 273.6 478.29 280.3 478.41 279.7 478.54 285.2 478.66 289.2 478.78 292.2 478.90 288.0 479.02 284.3 479.14 287.0 479.27 278.7 479.39 258.6 479.51 266.3 479.63 272.7 479.75 274.0 479.87 279.9 480.00 285.4 480.12 288.8 480.24 291.1 480.36 292.9 480.48 265.2 480.61 274.3 480.73 280.2 480.85 278.6 480.97 282.4 481.09 283.5 481.21 288.0 481.34 291.2 481.46 293.6 481.58 265.9 481.70 262.7 481.82 269.5 481.94 272.3 482.07 260.0 482.19 256.1 482.31 267.1 482.43 274.3 482.55 281.0 482.67 286.0 482.80 289.6 482.92 292.2 483.04 294.1 483.16 295.4 483.28 290.9 483.41 292.6 483.53 294.5 483.65 295.9 483.77 279.1 483.89 278.2 484.01 280.0 484.14 285.5 484.26 288.5 484.38 291.7 484.50 293.0 484.62 254.0 484.74 262.5 484.87 269.7 484.99 275.6 485.11 280.5 485.23 284.5 485.35 287.8 485.48 290.5 485.60 292.7 485.72 294.4 485.84 290.8 485.96 293.0 486.08 294.7 486.21 293.5 486.33 292.6 486.45 293.5 486.57 293.0 486.69 291.6 486.81 292.0 486.94 294.3 487.06 279.3 487.18 282.8 487.30 284.6 487.42 288.1 487.54 290.5 487.67 284.4 487.79 282.4 487.91 287.1 488.03 290.4 488.15 283.1 488.28 272.5 488.40 243.0 488.52 253.2 488.64 261.7 488.76 264.7 488.88 262.7 489.01 272.3 489.13 279.6 489.25 285.2 489.37 289.3 489.49 290.6 489.61 278.8 489.74 278.2 489.86 284.2 489.98 287.4 490.10 274.6 490.22 281.5 490.35 222.0 490.47 235.4 490.59 246.8 490.71 256.5 490.83 264.5 490.95 271.3 491.08 276.9 491.20 280.0 491.32 285.1 491.44 285.5 491.56 198.2 491.68 214.9 491.81 229.2 491.93 241.4 492.05 251.8 492.17 260.6 492.29 267.9 492.41 273.9 492.54 278.9 492.66 283.0 492.78 286.3 492.90 289.0 493.02 291.1 493.15 292.8 493.27 272.1 493.39 272.2 493.51 279.5 493.63 251.0 493.75 259.9 493.88 267.3 494.00 273.4 494.12 278.5 494.24 282.7 494.36 285.1 494.48 272.4 494.61 279.7 494.73 270.9 494.85 269.3 494.97 271.0 495.09 278.4 495.22 284.2 495.34 288.5 495.46 291.6 495.58 257.0 495.70 264.9 495.82 248.5 495.95 257.9 496.07 265.9 496.19 272.6 496.31 278.1 496.43 282.7 496.55 286.5 496.68 289.6 496.80 292.2 496.92 291.6 497.04 283.2 497.16 288.5 497.28 292.4 497.41 295.4 497.53 297.0 497.65 298.8 497.77 300.1 497.89 299.4 498.02 300.7 498.14 301.6 498.26 296.1 498.38 298.1 498.50 280.1 498.62 286.2 498.75 282.4 498.87 286.8 498.99 291.2 499.11 294.3 499.23 296.4 499.35 278.9 499.48 278.2 499.60 271.1 499.72 274.1 499.84 281.5 499.96 283.1 500.09 285.9 500.21 289.7 500.33 278.1 500.45 283.6 500.57 218.6 500.69 232.5 500.82 244.4 500.94 254.6 501.06 263.2 501.18 270.3 501.30 276.3 501.42 281.3 501.55 249.9 501.67 259.3 501.79 267.1 501.91 273.7 502.03 279.2 502.15 283.7 502.28 274.0 502.40 280.7 502.52 279.8 502.64 268.0 502.76 274.5 502.89 279.9 503.01 284.3 503.13 288.0 503.25 290.9 503.37 285.4 503.49 290.0 503.62 293.2 503.74 291.7 503.86 294.5 503.98 296.6 504.10 298.2 504.22 294.3 504.35 263.2 504.47 270.4 504.59 276.5 504.71 281.5 504.83 285.5 504.96 288.9 505.08 291.5 505.20 288.9 505.32 270.8 505.44 279.1 505.56 185.4 505.69 204.0 505.81 220.1 505.93 233.9 506.05 245.7 506.17 255.7 506.29 264.1 506.42 271.2 506.54 277.1 506.66 281.9 506.78 285.8 506.90 289.0 507.02 288.7 507.15 292.4 507.27 294.7 507.39 206.0 507.51 221.8 507.63 235.3 507.76 246.9 507.88 256.7 508.00 264.9 508.12 271.8 508.24 277.5 508.36 206.0 508.49 221.8 508.61 235.3 508.73 246.9 508.85 256.7 508.97 264.9 509.09 271.8 509.22 277.6 509.34 282.3 509.46 237.0 509.58 248.3 509.70 257.9 509.83 266.0 509.95 272.7 510.07 278.3 510.19 282.9 510.31 286.6 510.43 289.7 510.56 292.1 510.68 294.1 510.80 272.7 510.92 280.5 511.04 285.3 511.16 284.5 511.29 278.5 511.41 283.2 511.53 286.8 511.65 253.0 511.77 262.0 511.89 269.6 512.02 275.9 512.14 281.2 512.26 285.5 512.38 289.1 512.50 292.0 512.63 294.3 512.75 295.4 512.87 297.7 512.99 294.2 513.11 296.9 513.23 297.5 513.36 257.0 513.48 265.4 513.60 272.5 513.72 278.3 513.84 283.1 513.96 287.1 514.09 290.2 514.21 292.8 514.33 294.8 514.45 290.7 514.57 244.0 514.70 254.4 514.82 263.1 514.94 270.4 515.06 276.5 515.18 281.5 515.30 280.0 515.43 285.6 515.55 210.0 515.67 225.3 515.79 238.4 515.91 249.6 516.03 259.1 516.16 267.1 516.28 273.7 516.40 264.2 516.52 271.4 516.64 277.3 516.76 282.2 516.89 286.3 517.01 289.5 517.13 292.2 517.25 294.3 517.37 296.0 517.50 297.4 517.62 298.5 517.74 295.0 517.86 297.2 517.98 297.9 518.10 299.0 518.23 300.0 518.35 277.5 518.47 281.9 518.59 287.5 518.71 291.4 518.83 294.6 518.96 296.8 519.08 283.8 519.20 289.0 519.32 292.8 519.44 262.0 519.57 269.6 519.69 275.9 519.81 281.1 519.93 285.4 520.05 288.9 520.17 287.1 520.30 290.3 520.42 238.4 520.54 249.7 520.66 259.2 520.78 267.3 520.90 274.1 521.03 279.7 521.15 284.4 521.27 288.2 521.39 291.3 521.51 292.8 521.63 294.6 521.76 293.0 521.88 296.0 522.00 298.3 522.12 299.9 522.24 301.1 522.37 302.0 522.49 302.5 522.61 302.9 522.73 298.2 522.85 289.6 522.97 293.8 523.10 280.0 523.22 286.6 523.34 290.2 523.46 294.2 523.58 291.0 523.70 293.4 523.83 296.5 523.95 298.7 524.07 300.2 524.19 298.8 524.31 300.3 524.43 301.4 524.56 260.0 524.68 268.1 524.80 274.8 524.92 280.4 525.04 285.0 525.17 288.7 525.29 287.4 525.41 256.6 525.53 265.2 525.65 272.4 525.77 278.3 525.90 283.3 526.02 287.3 526.14 290.6 526.26 293.2 526.38 295.4 526.50 290.3 526.63 294.0 526.75 296.7 526.87 298.6 526.99 296.9 527.11 297.3 527.24 295.8 527.36 259.2 527.48 267.3 527.60 274.1 527.72 279.7 527.84 284.4 527.97 281.9 528.09 287.7 528.21 292.0 528.33 295.1 528.45 295.5 528.57 284.5 528.70 289.1 528.82 285.4 528.94 290.2 529.06 290.7 529.18 294.0 529.30 296.4 529.43 298.1 529.55 298.8 529.67 299.8 529.79 286.8 529.91 291.1 530.04 292.2 530.16 289.7 530.28 292.4 530.40 261.0 530.52 268.6 530.64 274.9 530.77 280.1 530.89 284.4 531.01 287.8 531.13 290.6 531.25 255.6 531.37 264.0 531.50 271.0 531.62 276.8 531.74 281.6 531.86 283.9 531.98 288.6 532.11 291.2 532.23 293.2 532.35 294.8 532.47 296.0 532.59 297.0 532.71 297.8 532.84 293.1 532.96 246.0 533.08 255.8 533.20 264.1 533.32 271.1 533.44 277.0 533.57 281.9 533.69 285.9 533.81 289.2 533.93 291.9 534.05 292.1 534.17 295.0 534.30 294.9 534.42 261.0 534.54 268.8 534.66 275.4 534.78 280.8 534.91 285.3 535.03 289.0 535.15 292.1 535.27 294.6 535.39 296.6 535.51 298.3 535.64 297.5 535.76 296.0 535.88 297.0 536.00 299.1 536.12 300.5 536.24 292.2 536.37 292.1 536.49 295.5 536.61 288.1 536.73 291.7 536.85 294.4 536.98 297.2 537.10 299.2 537.22 300.1 537.34 301.2 537.46 302.0 537.58 302.6 537.71 301.8 537.83 301.9 537.95 302.6 538.07 298.9 538.19 300.2 538.31 301.2 538.44 301.9 538.56 302.4 538.68 302.7 538.80 299.5 538.92 300.6 539.04 300.0 539.17 300.8 539.29 301.4 539.41 263.0 539.53 270.4 539.65 276.5 539.78 281.6 539.90 283.5 540.02 288.7 540.14 285.7 540.26 289.7 540.38 259.4 540.51 267.3 540.63 273.8 540.75 279.3 540.87 254.0 540.99 262.8 541.11 265.0 541.24 257.3 541.36 265.6 541.48 268.1 541.60 275.1 541.72 280.8 541.85 274.5 541.97 279.6 542.09 285.1 542.21 287.8 542.33 290.0 542.45 293.6 542.58 290.7 542.70 294.1 542.82 291.9 542.94 292.1 543.06 288.5 543.18 292.6 543.31 295.6 543.43 297.6 543.55 253.0 543.67 262.1 543.79 269.7 543.91 276.1 544.04 281.4 544.16 285.7 544.28 289.2 544.40 292.1 544.52 288.1 544.65 291.0 544.77 294.5 544.89 297.0 545.01 298.8 545.13 297.1 545.25 294.0 545.38 296.1 545.50 298.2 545.62 299.7 545.74 300.7 545.86 284.3 545.98 288.1 546.11 289.3 546.23 293.3 546.35 295.7 546.47 296.2 546.59 298.0 546.72 297.7 546.84 298.4 546.96 299.8 547.08 300.8 547.20 301.6 547.32 302.1 547.45 297.8 547.57 298.5 547.69 299.9 547.81 296.0 547.93 296.3 548.05 297.3 548.18 298.4 548.30 294.5 548.42 297.0 548.54 298.9 548.66 300.2 548.78 299.9 548.91 299.7 549.03 296.8 549.15 294.4 549.27 284.5 549.39 275.2 549.52 264.3 549.64 247.7 549.76 236.0 549.88 233.5 550.00 187.0 550.12 225.6 550.25 244.9 550.37 238.1 550.49 272.6 550.61 235.2 550.73 249.8 550.85 179.0 550.98 205.6 551.10 148.1 551.22 108.7 551.34 60.0 551.46 133.9 551.59 145.3 551.71 209.6 551.83 188.9 551.95 191.4 552.07 219.9 552.19 178.0 552.32 230.4 552.44 237.6 552.56 249.2 552.68 251.5 552.80 248.8 552.92 271.4 553.05 264.2 553.17 271.3 553.29 277.2 553.41 282.2 553.53 286.2 553.65 289.6 553.78 292.3 553.90 294.5 554.02 296.3 554.14 297.8 554.26 298.8 554.39 140.0 554.51 164.7 554.63 186.3 554.75 205.0 554.87 221.2 554.99 235.1 555.12 247.1 555.24 257.3 555.36 249.0 555.48 258.9 555.60 267.4 555.72 274.2 555.85 279.9 555.97 284.5 556.09 288.2 556.21 291.2 556.33 293.6 556.46 295.5 556.58 265.0 556.70 272.0 556.82 277.8 556.94 282.5 557.06 286.3 557.19 289.4 557.31 291.8 557.43 293.7 557.55 295.2 557.67 295.8 557.79 297.2 557.92 297.8 558.04 295.9 558.16 287.8 558.28 287.8 558.40 286.0 558.52 289.2 558.65 291.8 558.77 294.0 558.89 295.7 559.01 275.0 559.13 255.9 559.26 243.7 559.38 206.0 559.50 224.4 559.62 248.0 559.74 216.8 559.86 211.7 559.99 78.6 560.11 138.7 560.23 137.3 560.35 188.0 560.47 199.9 560.59 211.4 560.72 249.7 560.84 248.8 560.96 248.1 561.08 265.7 561.20 268.8 561.33 287.9 561.45 281.8 561.57 258.6 561.69 271.4 561.81 276.8 561.93 280.4 562.06 281.0 562.18 278.4 562.30 264.5 562.42 258.6 562.54 224.6 562.66 260.1 562.79 251.3 562.91 276.8 563.03 286.1 563.15 290.6 563.27 288.7 563.39 289.0 563.52 264.0 563.64 272.6 563.76 227.0 563.88 249.1 564.00 250.4 564.13 260.1 564.25 268.4 564.37 275.3 564.49 281.0 564.61 285.7 564.73 289.6 564.86 292.8 564.98 295.4 565.10 289.3 565.22 292.6 565.34 268.0 565.46 275.0 565.59 280.9 565.71 285.8 565.83 289.8 565.95 293.1 566.07 295.8 566.20 286.9 566.32 288.5 566.44 293.2 566.56 296.3 566.68 298.4 566.80 300.8 566.93 288.5 567.05 293.5 567.17 297.3 567.29 295.5 567.41 298.8 567.53 301.2 567.66 284.6 567.78 288.0 567.90 293.4 568.02 258.0 568.14 266.9 568.26 274.4 568.39 280.7 568.51 285.8 568.63 290.1 568.75 293.5 568.87 296.3 569.00 297.2 569.12 300.0 569.24 281.4 569.36 288.3 569.48 293.5 569.60 297.3 569.73 300.1 569.85 295.7 569.97 296.8 570.09 299.4 570.21 301.5 570.33 303.0 570.46 302.3 570.58 293.3 570.70 296.9 570.82 299.5 570.94 301.3 571.07 302.5 571.19 303.3 571.31 303.8 571.43 304.1 571.55 304.3 571.67 304.2 571.80 304.2 571.92 304.1 572.04 304.0 572.16 303.9 572.28 303.7 572.40 250.0 572.53 259.5 572.65 267.4 572.77 274.0 572.89 279.5 573.01 283.9 573.13 287.5 573.26 290.5 573.38 292.9 573.50 294.8 573.62 296.3 573.74 297.4 573.87 295.0 573.99 297.0 574.11 298.4 574.23 296.7 574.35 297.7 574.47 298.6 574.60 286.8 574.72 290.2 574.84 293.4 574.96 279.3 575.08 282.2 575.20 278.7 575.33 284.8 575.45 289.3 575.57 292.6 575.69 295.1 575.81 296.3 575.93 297.7 576.06 298.7 576.18 299.4 576.30 300.1 576.42 257.4 576.54 265.7 576.67 272.7 576.79 278.6 576.91 283.4 577.03 287.4 577.15 290.7 577.27 293.4 577.40 295.6 577.52 295.9 577.64 298.2 577.76 289.0 577.88 293.3 578.00 294.7 578.13 296.4 578.25 298.5 578.37 300.0 578.49 297.2 578.61 299.0 578.74 297.0 578.86 298.4 578.98 283.3 579.10 288.2 579.22 291.4 579.34 292.9 579.47 292.8 579.59 295.5 579.71 284.8 579.83 289.5 579.95 262.6 580.07 269.9 580.20 275.9 580.32 280.8 580.44 284.8 580.56 288.0 580.68 290.7 580.80 292.9 580.93 283.1 581.05 286.8 581.17 289.8 581.29 283.3 581.41 288.4 581.54 291.0 581.66 294.0 581.78 296.2 581.90 297.8 582.02 247.0 582.14 256.9 582.27 265.2 582.39 272.1 582.51 277.9 582.63 282.7 582.75 286.6 582.87 289.8 583.00 288.5 583.12 292.4 583.24 294.2 583.36 296.6 583.48 291.5 583.61 255.0 583.73 263.7 583.85 271.0 583.97 277.0 584.09 282.1 584.21 286.2 584.34 289.6 584.46 292.3 584.58 294.5 584.70 296.2 584.82 297.7 584.94 269.0 585.07 275.5 585.19 280.8 585.31 277.8 585.43 284.6 585.55 288.3 585.67 292.4 585.80 295.3 585.92 294.3 586.04 296.5 586.16 298.1 586.28 282.5 586.41 283.2 586.53 288.2 586.65 270.0 586.77 270.5 586.89 276.3 587.01 281.0 587.14 284.9 587.26 287.9 587.38 290.4 587.50 292.3 587.62 293.8 587.74 294.9 587.87 295.4 587.99 296.4 588.11 296.9 588.23 287.8 588.35 291.0 588.48 293.3 588.60 294.1 588.72 295.5 588.84 296.5 588.96 297.2 589.08 297.6 589.21 298.0 589.33 293.5 589.45 259.0 589.57 266.4 589.69 272.6 589.81 277.7 589.94 281.9 590.06 284.5 590.18 288.5 590.30 280.8 590.42 263.6 590.54 275.9 590.67 242.2 590.79 232.7 590.91 245.6 591.03 173.6 591.15 212.2 591.28 209.6 591.40 224.8 591.52 265.3 591.64 244.6 591.76 276.5 591.88 265.5 592.01 266.9 592.13 240.5 592.25 219.4 592.37 269.1 592.49 245.6 592.61 270.7 592.74 267.0 592.86 269.7 592.98 284.3 593.10 279.1 593.22 283.5 593.35 287.2 593.47 290.1 593.59 292.5 593.71 294.4 593.83 295.4 593.95 297.1 594.08 297.7 594.20 298.1 594.32 295.6 594.44 297.3 594.56 298.2 594.68 299.1 594.81 299.6 594.93 300.0 595.05 299.7 595.17 300.2 595.29 300.5 595.41 300.7 595.54 300.9 595.66 297.8 595.78 298.8 595.90 299.2 596.02 299.8 596.15 294.4 596.27 296.3 596.39 297.3 596.51 298.3 596.63 296.5 596.75 296.3 596.88 297.0 597.00 298.1 597.12 289.0 597.24 292.4 597.36 294.8 597.48 296.3 597.61 295.7 597.73 296.4 597.85 297.7 597.97 298.6 598.09 299.2 598.22 298.4 598.34 299.1 598.46 299.6 598.58 298.9 598.70 299.5 598.82 299.4 598.95 299.9 599.07 300.0 599.19 300.3 599.31 299.3 599.43 299.8 599.55 300.1 599.68 299.5 599.80 299.2 599.92 299.7 600.04 300.0 600.16 297.0 600.28 297.6 600.41 298.6 600.53 298.1 600.65 297.9 600.77 294.8 600.89 293.9 601.02 265.9 601.14 272.5 601.26 278.0 601.38 282.5 601.50 286.1 601.62 289.1 601.75 291.4 601.87 293.3 601.99 294.8 602.11 296.0 602.23 296.9 602.35 252.0 602.48 260.8 602.60 268.2 602.72 274.3 602.84 279.3 602.96 283.4 603.09 281.7 603.21 285.4 603.33 288.3 603.45 290.7 603.57 292.6 603.69 294.1 603.82 295.3 603.94 289.6 604.06 275.2 604.18 272.0 604.30 235.3 604.42 206.6 604.55 254.1 604.67 235.1 604.79 261.9 604.91 258.9 605.03 267.3 605.15 280.1 605.28 274.1 605.40 286.7 605.52 282.6 605.64 287.7 605.76 284.1 605.89 282.6 606.01 268.5 606.13 254.4 606.25 247.6 606.37 203.0 606.49 218.8 606.62 262.6 606.74 252.6 606.86 277.7 606.98 261.9 607.10 279.6 607.22 266.2 607.35 235.0 607.47 267.0 607.59 258.1 607.71 277.9 607.83 283.5 607.96 277.1 608.08 286.2 608.20 286.3 608.32 289.6 608.44 296.4 608.56 293.4 608.69 298.4 608.81 296.4 608.93 297.1 609.05 297.4 609.17 298.2 609.29 298.9 609.42 299.4 609.54 299.8 609.66 300.1 609.78 300.4 609.90 300.6 610.02 300.7 610.15 295.3 610.27 294.7 610.39 296.1 610.51 297.6 610.63 295.2 610.76 296.9 610.88 298.2 611.00 299.1 611.12 286.2 611.24 290.4 611.36 241.4 611.49 252.0 611.61 261.0 611.73 268.5 611.85 274.7 611.97 279.9 612.09 284.2 612.22 287.6 612.34 290.4 612.46 292.6 612.58 294.4 612.70 290.0 612.83 270.2 612.95 275.8 613.07 282.6 613.19 287.9 613.31 291.9 613.43 225.4 613.56 238.6 613.68 249.8 613.80 259.4 613.92 267.5 614.04 274.2 614.16 279.9 614.29 284.6 614.41 288.4 614.53 291.6 614.65 294.1 614.77 296.2 614.89 298.0 615.02 299.4 615.14 300.5 615.26 300.2 615.38 254.6 615.50 263.7 615.63 271.3 615.75 277.6 615.87 282.8 615.99 287.1 616.11 290.5 616.23 293.3 616.36 295.6 616.48 294.6 616.60 297.3 616.72 299.2 616.84 300.3 616.96 301.3 617.09 258.3 617.21 263.7 617.33 274.0 617.45 281.9 617.57 287.8 617.70 287.2 617.82 291.8 617.94 295.1 618.06 289.2 618.18 286.5 618.30 290.0 618.43 187.0 618.55 205.6 618.67 221.6 618.79 235.4 618.91 247.3 619.03 257.3 619.16 265.8 619.28 272.9 619.40 278.8 619.52 283.7 619.64 287.7 619.76 291.0 619.89 293.6 620.01 295.8 620.13 268.6 620.25 277.8 620.37 262.0 620.50 269.8 620.62 276.2 620.74 281.5 620.86 285.8 620.98 289.3 621.10 292.1 621.23 294.3 621.35 296.1 621.47 297.5 621.59 296.4 621.71 298.2 621.83 265.0 621.96 272.1 622.08 280.1 622.20 285.9 622.32 290.4 622.44 293.6 622.57 294.3 622.69 296.4 622.81 297.8 622.93 286.2 623.05 289.0 623.17 292.5 623.30 285.4 623.42 248.6 623.54 258.1 623.66 266.2 623.78 272.9 623.90 278.5 624.03 283.0 624.15 286.8 624.27 289.8 624.39 292.3 624.51 294.2 624.63 285.5 624.76 288.8 624.88 291.5 625.00 293.6 625.12 295.3 625.24 296.7 625.37 296.8 625.49 298.3 625.61 292.1 625.73 294.9 625.85 296.8 625.97 298.2 626.10 299.2 626.22 299.9 626.34 300.4 626.46 297.8 626.58 282.8 626.70 286.6 626.83 289.6 626.95 284.5 627.07 274.8 627.19 280.0 627.31 284.2 627.43 109.0 627.56 137.5 627.68 162.3 627.80 184.0 627.92 202.7 628.04 218.9 628.17 232.8 628.29 244.7 628.41 254.9 628.53 263.4 628.65 270.5 628.77 263.7 628.90 270.7 629.02 276.6 629.14 281.5 629.26 285.5 629.38 288.7 629.50 291.3 629.63 291.9 629.75 287.2 629.87 291.2 629.99 281.7 630.11 287.1 630.24 291.1 630.36 291.1 630.48 294.0 630.60 295.9 630.72 287.5 630.84 291.5 630.97 289.0 631.09 292.6 631.21 295.3 631.33 296.1 631.45 280.2 631.57 231.4 631.70 243.6 631.82 254.1 631.94 262.9 632.06 270.3 632.18 276.5 632.30 281.6 632.43 285.8 632.55 233.0 632.67 245.1 632.79 255.4 632.91 264.0 633.04 271.3 633.16 277.4 633.28 282.3 633.40 286.3 633.52 289.5 633.64 292.1 633.77 294.2 633.89 295.9 634.01 289.6 634.13 293.1 634.25 295.6 634.37 264.4 634.50 271.4 634.62 277.2 634.74 282.0 634.86 285.9 634.98 289.0 635.11 291.5 635.23 293.5 635.35 295.1 635.47 296.3 635.59 297.3 635.71 298.2 635.84 298.9 635.96 299.5 636.08 300.0 636.20 298.2 636.32 299.3 636.44 299.7 636.57 300.3 636.69 300.8 636.81 299.0 636.93 299.9 637.05 300.6 637.17 301.1 637.30 301.5 637.42 289.1 637.54 292.9 637.66 295.1 637.78 297.2 637.91 298.8 638.03 214.6 638.15 229.3 638.27 241.9 638.39 252.6 638.51 261.7 638.64 269.3 638.76 275.6 638.88 280.9 639.00 285.2 639.12 288.7 639.24 291.5 639.37 261.0 639.49 268.7 639.61 275.1 639.73 280.4 639.85 284.8 639.98 288.4 640.10 291.2 640.22 293.1 640.34 294.2 640.46 296.6 640.58 263.0 640.71 270.4 640.83 276.7 640.95 281.8 641.07 286.1 641.19 289.6 641.31 292.4 641.44 294.7 641.56 296.6 641.68 298.1 641.80 299.4 641.92 300.4 642.04 238.0 642.17 249.5 642.29 259.3 642.41 267.6 642.53 274.5 642.65 255.0 642.78 264.0 642.90 271.6 643.02 277.9 643.14 283.0 643.26 287.1 643.38 290.3 643.51 292.9 643.63 294.9 643.75 296.5 643.87 286.1 643.99 290.2 644.11 293.5 644.24 295.8 644.36 296.3 644.48 297.4 644.60 298.4 644.72 295.9 644.85 293.2 644.97 294.6 645.09 296.1 645.21 296.3 645.33 297.2 645.45 297.7 645.58 290.4 645.70 284.2 645.82 269.4 645.94 277.6 646.06 283.9 646.18 288.5 646.31 292.0 646.43 287.9 646.55 288.8 646.67 292.3 646.79 294.9 646.91 296.9 647.04 298.3 647.16 299.1 647.28 291.6 647.40 293.6 647.52 288.4 647.65 290.6 647.77 288.3 647.89 292.1 648.01 295.2 648.13 288.8 648.25 285.4 648.38 245.4 648.50 255.5 648.62 264.1 648.74 271.2 648.86 277.1 648.98 282.0 649.11 285.9 649.23 289.1 649.35 291.7 649.47 293.7 649.59 253.0 649.72 261.8 649.84 269.2 649.96 275.4 650.08 263.7 650.20 270.7 650.32 276.6 650.45 277.8 650.57 284.1 650.69 274.5 650.81 278.1 650.93 284.3 651.05 285.5 651.18 288.5 651.30 292.0 651.42 294.6 651.54 296.5 651.66 297.8 651.78 289.4 651.91 290.6 652.03 289.9 652.15 293.1 652.27 295.3 652.39 297.0 652.52 298.2 652.64 251.0 652.76 260.1 652.88 267.7 653.00 274.1 653.12 279.3 653.25 283.5 653.37 287.0 653.49 289.7 653.61 258.0 653.73 265.8 653.85 272.3 653.98 277.7 654.10 282.1 654.22 285.6 654.34 288.5 654.46 290.7 654.59 292.5 654.71 293.9 654.83 295.0 654.95 295.8 655.07 281.9 655.19 268.1 655.32 268.5 655.44 271.3 655.56 278.3 655.68 280.2 655.80 279.3 655.92 280.9 656.05 282.7 656.17 284.1 656.29 288.4 656.41 291.5 656.53 288.1 656.65 291.4 656.78 292.9 656.90 290.2 657.02 292.9 657.14 282.6 657.26 279.2 657.39 284.3 657.51 287.9 657.63 291.3 657.75 293.8 657.87 295.0 657.99 291.3 658.12 293.9 658.24 279.0 658.36 284.9 658.48 289.3 658.60 292.5 658.72 292.3 658.85 293.7 658.97 295.7 659.09 281.1 659.21 276.3 659.33 273.3 659.46 240.0 659.58 258.4 659.70 275.2 659.82 281.8 659.94 256.6 660.06 259.3 660.19 262.3 660.31 195.1 660.43 176.2 660.55 131.4 660.67 175.1 660.79 216.4 660.92 202.1 661.04 216.7 661.16 247.9 661.28 250.4 661.40 265.8 661.52 263.5 661.65 271.6 661.77 277.2 661.89 273.5 662.01 221.0 662.13 234.6 662.26 246.2 662.38 256.0 662.50 264.3 662.62 271.2 662.74 276.9 662.86 281.6 662.99 261.6 663.11 271.8 663.23 279.5 663.35 285.3 663.47 289.6 663.59 292.8 663.72 247.4 663.84 257.1 663.96 265.2 664.08 272.0 664.20 277.6 664.33 282.2 664.45 222.0 664.57 235.5 664.69 247.0 664.81 256.7 664.93 264.9 665.06 271.8 665.18 277.5 665.30 282.2 665.42 286.0 665.54 264.0 665.66 271.0 665.79 276.8 665.91 281.6 666.03 285.5 666.15 288.7 666.27 291.2 666.39 293.3 666.52 294.9 666.64 296.2 666.76 297.2 666.88 298.0 667.00 254.0 667.13 262.6 667.25 269.8 667.37 275.8 667.49 280.7 667.61 284.7 667.73 288.0 667.86 290.6 667.98 292.7 668.10 294.0 668.22 290.6 668.34 293.7 668.46 295.8 668.59 275.7 668.71 282.7 668.83 288.0 668.95 288.6 669.07 292.3 669.20 295.1 669.32 297.1 669.44 296.0 669.56 297.9 669.68 299.1 669.80 300.1 669.93 300.9 670.05 251.0 670.17 260.4 670.29 268.3 670.41 275.0 670.53 280.5 670.66 284.9 670.78 284.5 670.90 288.2 671.02 291.1 671.14 293.5 671.26 295.4 671.39 296.8 671.51 298.0 671.63 298.9 671.75 299.6 671.87 300.1 672.00 300.5 672.12 300.8 672.24 301.0 672.36 301.2 672.48 294.8 672.60 296.8 672.73 298.2 672.85 298.7 672.97 299.5 673.09 294.4 673.21 296.2 673.33 297.4 673.46 298.3 673.58 297.7 673.70 297.2 673.82 291.7 673.94 294.1 674.07 295.8 674.19 297.0 674.31 286.6 674.43 283.0 674.55 287.0 674.67 290.4 674.80 292.6 674.92 293.5 675.04 295.0 675.16 296.1 675.28 277.4 675.40 283.1 675.53 283.3 675.65 287.7 675.77 279.5 675.89 284.0 676.01 286.3 676.13 289.7 676.26 292.5 676.38 293.8 676.50 289.3 676.62 292.3 676.74 294.5 676.87 296.2 676.99 276.5 677.11 281.3 677.23 285.2 677.35 288.4 677.47 291.0 677.60 293.1 677.72 294.8 677.84 294.3 677.96 296.3 678.08 296.4 678.20 296.1 678.33 297.5 678.45 295.1 678.57 296.7 678.69 297.8 678.81 296.3 678.93 291.8 679.06 294.2 679.18 296.0 679.30 285.6 679.42 289.7 679.54 279.4 679.67 285.0 679.79 289.2 679.91 292.1 680.03 291.9 680.15 277.2 680.27 282.8 680.40 286.3 680.52 290.0 680.64 292.7 680.76 291.5 680.88 293.4 681.00 263.0 681.13 270.1 681.25 279.5 681.37 287.4 681.49 283.9 681.61 273.2 681.74 275.2 681.86 233.0 681.98 214.0 682.10 232.6 682.22 272.4 682.34 243.3 682.47 256.5 682.59 241.5 682.71 177.1 682.83 144.0 682.95 185.3 683.07 227.7 683.20 238.5 683.32 223.1 683.44 231.0 683.56 257.5 683.68 259.7 683.80 282.7 683.93 285.9 684.05 261.0 684.17 268.5 684.29 274.7 684.41 279.9 684.54 284.2 684.66 287.5 684.78 289.3 684.90 279.9 685.02 273.3 685.14 276.9 685.27 283.8 685.39 289.0 685.51 292.2 685.63 263.0 685.75 270.5 685.87 276.8 686.00 282.0 686.12 286.3 686.24 289.9 686.36 291.7 686.48 295.2 686.61 296.4 686.73 298.7 686.85 300.0 686.97 300.2 687.09 301.6 687.21 297.0 687.34 299.4 687.46 241.4 687.58 252.6 687.70 262.1 687.82 270.1 687.94 276.9 688.07 282.5 688.19 287.0 688.31 290.7 688.43 244.0 688.55 254.7 688.67 263.8 688.80 271.4 688.92 277.8 689.04 283.0 689.16 287.3 689.28 288.5 689.41 293.0 689.53 295.9 689.65 297.7 689.77 284.3 689.89 289.8 690.01 291.5 690.14 294.9 690.26 289.2 690.38 269.4 690.50 275.9 690.62 281.3 690.74 285.6 690.87 289.2 690.99 292.1 691.11 290.4 691.23 273.4 691.35 281.3 691.48 286.2 691.60 281.7 691.72 287.5 691.84 291.7 691.96 271.9 692.08 277.8 692.21 282.6 692.33 286.5 692.45 289.6 692.57 260.0 692.69 267.8 692.81 274.2 692.94 279.5 693.06 283.9 693.18 287.5 693.30 290.4 693.42 292.8 693.54 294.7 693.67 294.5 693.79 290.9 693.91 294.0 694.03 296.3 694.15 297.9 694.28 299.0 694.40 299.8 694.52 286.5 694.64 289.6 694.76 293.1 694.88 294.1 695.01 285.1 695.13 289.8 695.25 293.2 695.37 292.4 695.49 287.8 695.61 291.8 695.74 280.4 695.86 279.7 695.98 284.8 696.10 265.0 696.22 274.8 696.35 258.0 696.47 266.3 696.59 273.3 696.71 279.1 696.83 284.0 696.95 287.9 697.08 291.2 697.20 293.9 697.32 296.0 697.44 297.8 697.56 299.2 697.68 300.4 697.81 301.3 697.93 302.1 698.05 302.3 698.17 302.9 698.29 303.2 698.41 303.4 698.54 298.9 698.66 299.9 698.78 301.0 698.90 290.8 699.02 223.8 699.15 213.5 699.27 190.4 699.39 95.6 699.51 140.3 699.63 214.1 699.75 180.3 699.88 231.6 700.00 228.3 700.12 260.0 700.24 258.5 700.36 248.6 700.48 270.8 700.61 249.0 700.73 262.8 700.85 265.9 700.97 283.5 701.09 277.6 701.22 282.4 701.34 292.1 701.46 290.1 701.58 286.7 701.70 267.5 701.82 246.6 701.95 228.0 702.07 261.2 702.19 257.9 702.31 259.9 702.43 269.5 702.55 278.6 702.68 290.8 702.80 279.5 702.92 275.8 703.04 284.2 703.16 250.9 703.28 243.8 703.41 213.0 703.53 255.6 703.65 265.9 703.77 266.5 703.89 266.4 704.02 283.4 704.14 281.5 704.26 282.8 704.38 287.3 704.50 286.6 704.62 294.3 704.75 289.4 704.87 278.2 704.99 285.7 705.11 279.0 705.23 261.4 705.35 224.0 705.48 246.2 705.60 260.0 705.72 279.7 705.84 285.7 705.96 270.4 706.09 275.8 706.21 280.9 706.33 285.0 706.45 288.4 706.57 257.0 706.69 265.2 706.82 272.1 706.94 277.8 707.06 282.5 707.18 286.4 707.30 280.5 707.42 284.7 707.55 288.1 707.67 290.9 707.79 293.1 707.91 294.8 708.03 296.3 708.15 297.4 708.28 298.3 708.40 299.1 708.52 282.7 708.64 212.6 708.76 227.5 708.89 240.3 709.01 251.1 709.13 260.3 709.25 268.1 709.37 274.6 709.49 279.9 709.62 249.0 709.74 258.6 709.86 266.6 709.98 273.4 710.10 279.0 710.22 283.6 710.35 287.3 710.47 290.4 710.59 292.8 710.71 293.9 710.83 293.7 710.96 291.3 711.08 293.4 711.20 295.9 711.32 294.1 711.44 295.6 711.56 297.4 711.69 298.7 711.81 275.9 711.93 282.8 712.05 288.0 712.17 291.3 712.29 294.2 712.42 296.0 712.54 297.6 712.66 282.1 712.78 287.1 712.90 280.7 713.02 266.6 713.15 266.1 713.27 241.6 713.39 211.6 713.51 231.8 713.63 239.1 713.76 254.6 713.88 276.9 714.00 282.6 714.12 278.4 714.24 281.3 714.36 266.8 714.49 284.4 714.61 279.0 714.73 289.6 714.85 285.8 714.97 286.2 715.09 292.5 715.22 276.0 715.34 273.4 715.46 281.3 715.58 242.0 715.70 253.6 715.83 262.7 715.95 283.7 716.07 272.6 716.19 277.4 716.31 282.5 716.43 287.8 716.56 289.9 716.68 292.4 716.80 296.2 716.92 291.7 717.04 285.2 717.16 282.6 717.29 281.0 717.41 284.7 717.53 257.1 717.65 269.1 717.77 239.3 717.89 222.5 718.02 207.5 718.14 205.5 718.26 154.1 718.38 75.0 718.50 131.0 718.63 157.6 718.75 183.0 718.87 240.3 718.99 204.5 719.11 209.6 719.23 224.6 719.36 237.5 719.48 248.5 719.60 257.8 719.72 265.6 719.84 272.1 719.96 277.5 720.09 282.0 720.21 285.7 720.33 288.6 720.45 291.1 720.57 292.3 720.70 294.2 720.82 291.1 720.94 293.5 721.06 295.1 721.18 291.8 721.30 256.8 721.43 264.7 721.55 271.2 721.67 276.6 721.79 281.1 721.91 284.6 722.03 287.1 722.16 288.7 722.28 287.8 722.40 290.9 722.52 293.0 722.64 294.6 722.76 292.9 722.89 294.4 723.01 295.5 723.13 296.4 723.25 284.3 723.37 288.4 723.50 278.0 723.62 270.0 723.74 275.7 723.86 280.4 723.98 284.3 724.10 287.5 724.23 290.1 724.35 292.1 724.47 293.8 724.59 295.2 724.71 296.3 724.83 296.7 724.96 297.8 725.08 298.5 725.20 298.6 725.32 299.2 725.44 299.7 725.57 299.9 725.69 299.9 725.81 293.4 725.93 295.2 726.05 290.7 726.17 293.1 726.30 294.9 726.42 293.9 726.54 295.3 726.66 296.2 726.78 296.8 726.90 296.0 727.03 277.0 727.15 281.1 727.27 284.4 727.39 287.1 727.51 289.2 727.63 268.0 727.76 273.6 727.88 278.2 728.00 281.8" fill="none" stroke="#d9202e" stroke-width="0.7" stroke-linejoin="round"/>
<path d="M58.50 340.0 58.62 339.4 58.74 331.0 58.87 321.5 58.99 318.2 59.11 322.9 59.23 312.8 59.35 320.6 M61.54 314.4 61.67 311.1 61.79 321.6 61.91 323.2 62.03 324.4 62.15 325.4 62.27 326.2 M64.95 312.2 65.07 315.7 65.20 317.7 65.32 319.3 65.44 320.5 65.56 321.5 65.68 322.2 65.80 307.3 65.93 312.0 66.05 315.3 66.17 313.6 66.29 316.6 66.41 312.5 66.54 315.8 66.66 318.2 66.78 316.3 66.90 318.5 67.02 310.5 67.14 313.9 67.27 316.6 67.39 303.8 67.51 309.0 67.63 312.9 67.75 308.5 67.87 312.4 M72.26 304.9 72.38 299.2 72.50 306.3 72.62 304.6 72.74 303.1 72.87 307.1 72.99 310.0 73.11 312.0 73.23 313.5 73.35 314.6 73.48 315.3 73.60 305.7 73.72 306.0 73.84 308.9 73.96 310.9 74.08 307.7 74.21 296.9 74.33 299.6 74.45 304.2 74.57 306.9 74.69 308.9 74.81 305.8 74.94 308.5 75.06 310.7 75.18 307.9 75.30 307.1 75.42 308.6 75.54 294.3 M75.79 291.3 75.91 294.5 76.03 299.6 76.15 302.9 76.28 305.3 M76.52 290.0 76.64 296.4 76.76 299.3 76.88 303.2 77.01 306.1 77.13 308.2 77.25 304.6 77.37 299.3 77.49 303.0 77.61 305.1 77.74 301.6 77.86 303.2 77.98 305.6 78.10 307.3 78.22 306.8 78.35 304.4 78.47 305.8 78.59 301.8 78.71 296.2 78.83 300.2 78.95 299.3 79.08 291.4 79.20 296.6 79.32 298.3 79.44 301.7 79.56 300.3 79.68 301.7 79.81 293.0 79.93 297.6 80.05 300.3 80.17 302.9 80.29 304.8 80.41 304.2 80.54 305.7 80.66 304.7 80.78 305.9 80.90 300.4 81.02 302.8 81.15 304.6 81.27 305.9 81.39 306.8 81.51 307.5 81.63 292.3 81.75 294.8 81.88 292.9 82.00 282.1 82.12 289.3 82.24 294.7 82.36 298.7 82.48 301.6 82.61 300.6 82.73 296.1 82.85 299.0 82.97 301.8 83.09 303.9 83.22 303.4 83.34 301.7 83.46 302.7 83.58 299.0 83.70 293.8 83.82 281.4 M84.07 282.2 84.19 288.8 84.31 294.0 84.43 297.8 M85.16 282.3 85.28 287.1 85.41 290.9 85.53 294.0 85.65 287.4 85.77 291.8 85.89 285.6 86.02 291.1 86.14 293.6 86.26 296.9 86.38 299.3 86.50 294.2 86.62 297.2 86.75 299.4 86.87 300.9 86.99 290.8 87.11 294.6 87.23 296.4 87.35 294.1 87.48 278.0 87.60 284.1 87.72 289.4 87.84 293.3 87.96 296.1 88.09 298.1 88.21 299.5 88.33 300.5 M88.82 273.3 88.94 278.8 89.06 283.3 89.18 286.9 89.30 289.8 89.42 292.1 89.55 293.9 89.67 295.3 89.79 296.3 89.91 297.1 90.03 295.9 90.15 297.1 90.28 297.9 M91.13 271.6 91.25 277.0 91.37 281.3 91.49 284.8 91.62 287.7 91.74 290.0 91.86 291.8 M92.22 270.5 92.35 276.0 92.47 280.4 92.59 284.0 92.71 287.0 92.83 289.3 92.96 281.6 93.08 285.0 93.20 287.7 93.32 280.1 93.44 283.9 93.56 287.5 93.69 290.5 93.81 291.7 93.93 291.0 94.05 292.5 94.17 291.6 94.29 292.3 94.42 293.8 94.54 282.2 94.66 285.0 94.78 288.5 94.90 285.5 M95.51 273.7 95.63 269.0 95.76 274.9 95.88 279.7 96.00 285.1 96.12 288.4 96.24 274.8 96.36 283.0 96.49 268.6 M97.34 260.7 97.46 270.2 97.58 279.3 97.70 270.5 97.83 274.3 97.95 270.2 M98.19 271.2 98.31 260.9 M98.92 272.5 99.04 266.7 99.16 270.0 99.29 271.6 99.41 272.9 99.53 278.1 99.65 277.1 99.77 268.4 99.89 269.2 100.02 258.7 M100.75 269.8 100.87 259.3 100.99 274.6 101.11 269.5 101.23 273.4 101.36 276.5 101.48 279.0 101.60 280.9 101.72 263.3 101.84 268.2 101.96 272.1 102.09 272.4 102.21 276.5 102.33 279.5 M102.70 258.6 102.82 264.0 102.94 268.3 103.06 271.8 103.18 274.5 M103.79 257.5 103.91 262.9 104.03 267.3 104.16 270.8 104.28 273.7 104.40 276.0 104.52 277.9 104.64 279.2 104.76 280.5 104.89 279.1 105.01 278.9 105.13 279.0 105.25 280.5 M105.74 252.0 105.86 258.4 105.98 263.6 106.10 267.7 106.23 271.1 106.35 273.7 106.47 275.8 106.59 269.7 106.71 265.5 106.83 270.6 106.96 274.1 107.08 271.7 107.20 256.5 107.32 261.8 M107.57 249.8 107.69 256.3 107.81 261.5 107.93 265.8 108.05 269.2 108.17 271.9 108.30 274.1 108.42 275.8 108.54 277.2 108.66 278.4 108.78 279.3 108.90 279.4 109.03 280.1 109.15 278.4 109.27 276.7 109.39 278.5 109.51 278.5 109.63 279.6 109.76 280.5 109.88 281.3 110.00 275.8 110.12 275.4 110.24 277.3 110.37 264.8 110.49 268.0 110.61 272.3 110.73 274.3 110.85 267.4 110.97 271.8 111.10 274.7 111.22 273.6 111.34 276.1 111.46 276.9 M111.83 244.9 111.95 252.0 112.07 264.3 112.19 260.1 112.31 256.0 112.43 248.7 M113.77 255.6 113.90 261.4 114.02 246.8 114.14 260.1 114.26 256.1 114.38 267.0 114.50 272.1 114.63 258.6 114.75 260.0 114.87 244.7 M115.24 259.4 115.36 259.3 115.48 262.5 115.60 264.2 115.72 262.7 115.84 266.7 115.97 273.2 116.09 273.5 116.21 267.0 116.33 267.6 116.45 264.8 116.57 242.7 M117.18 238.8 117.30 249.7 117.43 247.9 117.55 249.7 117.67 252.8 117.79 251.2 117.91 259.5 118.04 263.5 118.16 263.6 118.28 272.7 118.40 268.6 118.52 263.4 118.64 258.5 118.77 251.8 118.89 262.5 119.01 248.1 119.13 246.8 M119.86 244.6 119.98 251.5 120.11 252.4 120.23 242.3 M120.84 244.7 120.96 242.1 121.08 246.9 121.20 241.0 121.32 247.6 M121.69 239.8 121.81 243.1 121.93 238.0 122.05 240.1 122.17 246.8 122.30 252.2 122.42 256.6 122.54 260.0 122.66 262.7 122.78 264.8 122.91 266.5 123.03 260.4 123.15 262.7 123.27 265.4 123.39 267.0 123.51 268.5 123.64 268.6 123.76 269.8 123.88 266.7 124.00 240.0 124.12 246.5 124.24 251.8 124.37 256.2 124.49 259.7 124.61 262.5 124.73 264.8 124.85 266.5 124.98 261.8 125.10 265.1 125.22 267.6 125.34 261.9 125.46 265.3 125.58 267.8 125.71 268.2 125.83 269.8 125.95 270.0 126.07 270.3 M126.80 232.0 126.92 240.0 127.04 246.6 127.17 250.1 127.29 254.8 127.41 258.6 127.53 261.7 127.65 264.1 127.78 266.0 127.90 258.6 128.02 262.7 128.14 265.3 128.26 267.6 128.38 269.1 128.51 262.1 128.63 264.7 128.75 265.4 128.87 266.8 128.99 268.5 129.11 267.7 129.24 245.6 M129.48 232.4 129.60 240.2 129.72 246.6 129.85 251.8 129.97 256.1 130.09 259.4 130.21 262.2 130.33 264.3 130.45 266.0 130.58 253.8 130.70 257.6 130.82 261.1 M131.55 234.3 131.67 241.4 131.79 247.2 131.91 251.9 132.04 255.6 132.16 258.6 132.28 260.9 132.40 262.8 132.52 254.5 132.65 257.3 132.77 260.5 132.89 263.0 133.01 256.6 133.13 257.9 133.25 261.0 133.38 262.5 133.50 262.8 133.62 264.0 133.74 265.2 133.86 266.0 133.98 250.0 134.11 253.9 134.23 257.0 134.35 259.5 134.47 261.5 134.59 263.0 134.72 264.3 134.84 265.3 134.96 263.5 135.08 265.0 135.20 263.2 135.32 261.5 135.45 250.4 135.57 255.7 135.69 259.4 135.81 260.8 135.93 263.2 136.05 264.8 136.18 259.6 136.30 257.8 136.42 248.0 136.54 252.1 136.66 255.5 136.78 258.1 136.91 260.2 137.03 261.8 137.15 263.1 137.27 264.0 137.39 264.8 137.52 264.9 137.64 254.0 137.76 255.8 137.88 257.8 138.00 260.5 138.12 262.4 138.25 263.8 138.37 264.1 138.49 263.6 138.61 264.5 138.73 261.5 138.85 258.1 138.98 257.0 139.10 258.8 139.22 258.1 139.34 256.6 139.46 259.5 M139.71 231.4 139.83 238.4 139.95 244.1 140.07 248.7 140.19 252.4 140.32 255.3 140.44 257.7 140.56 259.6 140.68 261.0 140.80 262.2 140.92 263.1 141.05 263.9 141.17 264.6 141.29 265.1 141.41 265.5 141.53 262.8 141.65 264.0 141.78 262.9 141.90 260.4 M142.63 233.5 142.75 240.4 142.87 246.0 142.99 250.2 143.12 254.2 143.24 256.7 143.36 258.8 143.48 261.5 143.60 262.8 143.72 263.1 143.85 264.3 143.97 262.4 144.09 250.8 144.21 254.4 144.33 255.3 144.46 256.2 144.58 259.0 144.70 259.0 144.82 260.7 144.94 262.2 145.06 261.0 145.19 256.0 145.31 258.7 M145.79 233.1 145.92 239.3 146.04 244.5 146.16 248.7 146.28 252.0 146.40 254.8 146.52 256.9 146.65 258.6 146.77 260.0 146.89 261.1 147.01 260.0 147.13 261.1 147.26 261.7 M147.62 231.1 147.74 237.9 147.86 243.4 147.99 247.9 148.11 251.5 148.23 253.3 148.35 255.7 148.47 258.5 148.59 260.0 148.72 261.2 148.84 262.1 148.96 262.9 149.08 255.6 149.20 258.5 149.33 248.5 149.45 253.1 149.57 255.4 149.69 257.1 149.81 259.6 149.93 261.2 150.06 257.3 150.18 252.3 150.30 253.4 150.42 257.0 150.54 257.3 150.66 253.6 150.79 257.2 150.91 258.8 151.03 256.1 151.15 258.8 151.27 260.8 M152.98 233.3 153.10 239.6 153.22 244.7 153.34 248.8 153.46 252.2 M153.83 228.5 153.95 235.8 154.07 241.8 154.20 246.8 154.32 250.7 154.44 254.0 154.56 256.6 154.68 258.7 154.80 260.0 154.93 261.7 M155.41 230.7 155.53 237.9 155.66 243.8 155.78 248.7 155.90 252.6 156.02 255.7 156.14 258.3 156.26 246.4 156.39 250.8 156.51 254.4 156.63 257.3 156.75 259.6 156.87 258.1 157.00 261.1 157.12 249.4 157.24 254.8 M157.60 233.6 157.73 240.6 157.85 246.4 157.97 251.1 158.09 254.1 158.21 257.9 158.33 260.4 158.46 262.3 158.58 263.9 158.70 264.1 158.82 264.7 158.94 264.6 159.07 265.8 159.19 265.8 159.31 256.7 159.43 248.1 159.55 249.4 159.67 255.0 159.80 259.3 159.92 261.0 160.04 263.6 160.16 265.5 160.28 266.2 160.40 267.4 160.53 267.5 160.65 267.0 160.77 267.7 160.89 268.1 161.01 265.1 161.13 266.7 161.26 265.7 161.38 267.0 161.50 265.3 161.62 266.4 161.74 266.9 161.87 267.6 161.99 238.0 162.11 244.4 162.23 249.6 162.35 253.8 162.47 257.2 162.60 259.9 162.72 262.1 162.84 263.8 162.96 265.1 163.08 266.2 163.20 267.0 163.33 267.2 163.45 264.8 163.57 265.0 163.69 266.7 163.81 266.6 163.93 258.2 164.06 262.0 164.18 264.8 164.30 266.8 164.42 264.0 164.54 265.0 164.67 259.6 164.79 263.1 164.91 266.0 165.03 265.3 165.15 253.5 165.27 255.3 165.40 260.5 165.52 264.4 M166.25 243.0 166.37 249.5 166.49 254.9 166.61 259.3 166.74 262.9 166.86 265.8 M167.34 237.1 167.47 245.0 167.59 251.5 167.71 257.0 167.83 261.4 167.95 265.0 168.07 268.0 168.20 270.4 168.32 272.4 168.44 274.0 168.56 275.0 168.68 266.6 168.80 265.9 168.93 261.6 169.05 252.4 169.17 242.0 169.29 249.1 169.41 254.9 169.54 259.6 169.66 263.4 169.78 266.5 169.90 268.9 170.02 263.9 170.14 267.8 170.27 268.2 170.39 269.8 170.51 271.8 170.63 271.9 170.75 273.4 170.87 274.5 171.00 272.3 171.12 269.1 171.24 267.2 171.36 263.8 171.48 268.1 171.61 271.2 171.73 271.1 171.85 266.8 171.97 270.4 172.09 272.2 172.21 274.1 172.34 264.8 172.46 269.4 172.58 272.8 172.70 275.3 172.82 273.3 M173.19 246.6 173.31 253.7 173.43 259.5 173.55 264.1 173.67 267.9 173.80 270.9 173.92 266.4 174.04 271.0 174.16 265.9 174.28 265.1 M175.26 249.0 175.38 255.6 175.50 261.0 175.62 265.5 175.74 269.0 175.87 270.6 175.99 266.4 176.11 277.5 176.23 272.0 176.35 273.4 176.48 267.8 176.60 249.3 176.72 250.6 M179.40 253.6 179.52 253.8 179.64 256.3 179.76 275.2 179.88 275.4 180.01 269.6 180.13 273.3 180.25 276.4 M180.86 253.7 180.98 260.5 181.10 266.0 181.22 270.6 181.35 274.0 181.47 277.2 181.59 279.6 181.71 281.4 181.83 282.9 181.95 283.1 182.08 274.5 182.20 277.5 182.32 280.7 M182.81 250.5 182.93 257.8 183.05 258.9 183.17 266.9 183.29 265.7 183.41 270.3 183.54 261.5 183.66 264.1 183.78 270.7 183.90 275.4 184.02 278.9 184.15 281.5 184.27 283.4 184.39 284.6 184.51 272.0 M185.48 256.2 185.61 262.3 185.73 267.2 185.85 271.2 M186.46 257.2 186.58 263.4 186.70 268.5 186.82 272.4 186.95 276.1 187.07 264.4 187.19 271.3 187.31 276.2 187.43 280.0 187.55 278.7 187.68 281.9 187.80 281.5 187.92 275.6 M191.21 266.0 191.33 269.6 191.45 275.8 M191.94 264.1 192.06 270.1 192.18 275.1 192.30 279.1 192.42 282.4 192.55 284.6 192.67 285.4 192.79 286.3 192.91 288.9 193.03 269.1 193.15 274.3 193.28 278.6 193.40 282.1 193.52 285.0 193.64 287.4 193.76 278.0 193.89 283.2 194.01 287.1 194.13 282.6 194.25 281.6 M195.59 267.1 195.71 265.1 M195.96 271.9 196.08 279.3 196.20 277.1 196.32 283.0 196.44 287.7 M197.05 266.2 197.17 272.3 197.29 271.2 197.42 278.9 197.54 276.9 197.66 279.9 197.78 285.5 197.90 289.7 198.02 292.8 198.15 294.5 198.27 285.7 198.39 289.8 198.51 277.9 198.63 281.1 198.76 286.4 198.88 285.9 199.00 282.7 199.12 279.5 199.24 274.4" fill="none" stroke="#d9202e" stroke-width="1.0" stroke-linejoin="round"/>
<path d="M200.70 272.2 200.83 278.2 200.95 283.2 201.07 287.3 201.19 290.7 201.31 293.4 201.43 295.6 M201.92 273.6 202.04 279.5 202.16 284.0 202.29 288.5 202.41 281.9 202.53 276.2 202.65 283.9 202.77 289.6 202.89 294.0 M203.26 273.0 203.38 281.5 203.50 287.6 203.63 292.3 203.75 295.8 203.87 295.5 203.99 298.1 204.11 299.9 204.23 292.5 M205.21 276.4 205.33 283.6 205.45 288.9 205.57 287.0 205.70 290.8 205.82 292.7 205.94 295.6 206.06 294.5 206.18 294.6 206.30 295.3 206.43 293.0 206.55 295.6 206.67 297.9 206.79 299.6 206.91 300.9 207.03 297.6 207.16 299.5 207.28 300.7 M207.76 280.8 207.89 285.5 208.01 289.4 208.13 292.7 208.25 295.4 208.37 294.5 208.50 283.8 208.62 288.5 208.74 277.9 208.86 282.4 208.98 288.8 209.10 280.8 M212.15 281.8 212.27 287.2 M212.76 286.5 212.88 292.7 213.00 297.5 213.12 301.1 213.24 303.6 M213.61 282.8 213.73 288.0 213.85 292.3 213.97 292.8 214.10 297.5 214.22 296.8 214.34 300.4 214.46 300.5 214.58 303.1 M214.83 282.5 214.95 284.3 215.07 290.1 215.19 284.1 215.31 285.0 M215.68 282.6 215.80 287.7 215.92 292.0 216.04 294.1 216.17 298.4 216.29 293.8 216.41 293.8 216.53 298.3 216.65 301.6 216.77 304.1 216.90 305.9 217.02 288.0 217.14 294.1 217.26 298.7 217.38 300.8 217.50 300.8 217.63 301.4 217.75 304.0 217.87 303.6 217.99 305.7 218.11 292.7 218.24 289.7 M218.60 289.5 218.72 293.9 218.84 297.5 218.97 300.4 M219.21 288.8 219.33 294.5 219.45 289.2 219.57 293.7 219.70 297.4 219.82 300.4 219.94 302.9 220.06 288.5 220.18 294.8 220.30 299.3 220.43 303.1 220.55 292.4 220.67 297.3 220.79 301.6 220.91 304.8 221.04 300.4 221.16 304.1 221.28 299.1 M221.77 288.2 221.89 293.2 222.01 297.4 222.13 300.8 222.25 303.7 222.37 304.2 222.50 307.2 222.62 305.7 222.74 303.0 222.86 300.4 222.98 304.6 223.11 303.9 223.23 307.2 223.35 305.4 223.47 308.3 223.59 309.6 223.71 308.4 223.84 310.5 223.96 298.3 224.08 302.6 224.20 306.4 224.32 309.1 224.44 306.7 224.57 309.4 224.69 307.4 224.81 310.0 224.93 311.6 225.05 306.4 225.17 308.0 225.30 310.3 225.42 312.2 225.54 309.8 225.66 311.9 225.78 291.6 225.91 297.5 226.03 301.4 226.15 304.0 226.27 307.3 226.39 307.7 226.51 309.9 226.64 311.6 226.76 312.5 226.88 303.1 227.00 306.2 227.12 307.0 227.24 299.6 227.37 303.9 227.49 307.0 227.61 309.0 227.73 290.4 227.85 296.8 227.98 301.0 228.10 303.8 228.22 306.4 228.34 308.3 228.46 310.0 228.58 303.6 228.71 302.7 228.83 305.7 228.95 308.1 229.07 309.3 229.19 309.3 229.31 307.5 229.44 309.6 229.56 311.2 229.68 306.8 229.80 298.8 229.92 300.2 230.04 303.5 230.17 306.8 230.29 299.6 M230.65 292.1 230.78 296.6 230.90 300.4 231.02 303.6 M231.26 296.6 231.38 293.8 231.51 298.0 231.63 303.1 231.75 301.0 231.87 297.4 231.99 298.5 232.11 303.6 232.24 305.8 232.36 307.6 232.48 305.8 232.60 306.2 232.72 305.6 232.85 308.1 232.97 293.3 233.09 293.9 233.21 299.4 233.33 304.5 233.45 307.7 233.58 305.6 233.70 308.9 233.82 306.1 233.94 309.1 234.06 304.4 234.18 301.1 234.31 305.4 M235.04 297.0 235.16 300.6 235.28 303.5 235.40 305.8 235.52 307.6 M235.77 298.0 235.89 300.8 236.01 302.4 236.13 306.0 236.25 308.7 M236.74 296.4 236.86 299.8 236.98 304.0 237.11 304.9 237.23 304.5 237.35 307.9 237.47 310.4 237.59 309.2 237.72 309.2 237.84 311.1 237.96 312.9 238.08 314.2 238.20 302.1 238.32 304.4 238.45 296.2 238.57 296.7 238.69 297.6 238.81 300.4 238.93 299.8 239.05 301.7 239.18 306.1 239.30 309.5 M239.91 297.7 240.03 301.8 240.15 305.2 240.27 300.4 240.39 304.4 240.52 308.4 240.64 310.7 240.76 313.1 240.88 314.8 241.00 313.3 241.12 310.3 241.25 312.8 M242.10 298.7 242.22 302.9 242.34 306.5 242.46 307.7 242.59 310.4 242.71 313.5 242.83 315.4 242.95 313.0 243.07 311.5 243.19 309.2 M243.92 298.0 244.05 301.5 244.17 306.2 244.29 309.3 M244.53 300.0 244.65 300.3 244.78 301.5 244.90 305.0 245.02 309.4 245.14 312.8 245.26 301.0 245.39 306.5 245.51 310.3 245.63 313.4 245.75 306.9 245.87 310.9 245.99 313.8 246.12 313.4 246.24 315.6 M246.48 296.9 246.60 301.5 246.72 305.3 246.85 308.4 M247.09 300.6 247.21 303.4 247.33 305.9 247.46 310.0 247.58 307.6 M247.94 297.3 248.06 301.7 M248.31 299.7 248.43 303.7 248.55 307.0 248.67 309.7 248.79 311.9 248.92 313.7 249.04 306.0 M251.35 299.6 251.47 305.9 251.59 300.8 251.72 306.0 251.84 312.5 251.96 314.3 252.08 312.3 252.20 312.7 252.33 317.1 252.45 314.2 252.57 309.1 252.69 310.4 252.81 316.1 252.93 317.1 253.06 308.1 253.18 312.2 253.30 304.4 253.42 307.5 253.54 313.3 253.66 306.8 253.79 309.2 M254.88 303.9 255.00 301.0 M255.86 305.8 255.98 299.1 M256.22 300.8 256.34 304.9 256.46 308.2 256.59 310.9 256.71 313.0 256.83 314.7 256.95 316.1 257.07 313.5 257.20 315.5 257.32 317.0 257.44 317.7 M257.93 299.9 258.05 303.8 258.17 307.0 258.29 309.5 258.41 302.2 258.53 307.1 258.66 309.9 258.78 312.8 M259.02 302.4 259.14 307.3 259.26 310.5 M259.63 300.4 259.75 304.3 259.87 307.6 260.00 310.2 260.12 312.4 260.24 303.9 260.36 308.1 260.48 311.6 260.60 314.2 260.73 309.4 260.85 307.5 260.97 310.8 261.09 305.8 261.21 309.9 261.33 313.1 261.46 315.4 M263.28 300.2 263.40 304.5 263.53 308.0 263.65 310.2 263.77 313.2 263.89 315.0 264.01 316.5 264.13 314.4 264.26 310.3 M264.87 301.9 264.99 305.8 265.11 309.1 265.23 311.7 265.35 307.6 265.47 311.6 265.60 314.6 265.72 316.7 265.84 314.5 265.96 314.7 M266.20 302.1 266.33 306.0 266.45 309.2 266.57 311.9 266.69 314.0 266.81 315.8 266.93 317.2 267.06 313.7 267.18 316.2 267.30 318.0 267.42 318.2 267.54 305.5 267.67 302.9 267.79 307.0 267.91 311.3 268.03 307.7 268.15 311.5 268.27 314.5 M268.64 298.8 268.76 303.2 268.88 306.9 269.00 308.0 269.13 311.8 269.25 314.1 269.37 315.8 269.49 317.1 269.61 315.1 269.74 316.9 269.86 316.9 269.98 317.1 270.10 318.4 270.22 316.4 270.34 315.9 270.47 306.6 270.59 310.6 270.71 311.4 270.83 314.2 270.95 316.3 271.07 317.9 271.20 311.5 271.32 309.4 271.44 312.9 271.56 315.5 271.68 312.6 271.80 315.3 271.93 305.3 272.05 309.9 272.17 307.1 272.29 309.9 272.41 313.3 272.54 316.0 272.66 317.2 272.78 308.8 272.90 309.1 273.02 313.0 273.14 315.9 273.27 310.1 273.39 313.3 273.51 314.2 273.63 316.8 273.75 315.6 273.87 317.8 274.00 318.3 274.12 301.5 274.24 307.2 M274.73 302.4 274.85 306.4 274.97 309.7 275.09 312.4 275.21 314.6 275.34 316.3 275.46 316.0 275.58 318.0 275.70 318.4 275.82 310.4 275.94 314.0 276.07 302.8 276.19 304.9 276.31 309.7 276.43 306.0 276.55 310.4 276.67 314.2 276.80 308.2 276.92 310.8 277.04 314.6 277.16 316.9 277.28 316.6 277.41 319.0 277.53 320.8 277.65 308.8 277.77 307.2 277.89 310.8 278.01 313.8 278.14 315.0 278.26 309.7 278.38 300.5 278.50 307.0 278.62 311.9 278.74 314.1 278.87 316.6 278.99 313.1 279.11 311.7 279.23 315.4 279.35 318.2 279.48 320.2 279.60 316.3 279.72 318.8 279.84 303.7 279.96 308.0 280.08 311.4 280.21 308.5 M280.45 301.7 280.57 307.8 280.69 312.3 280.81 315.7 280.94 303.1 M281.79 298.5 281.91 303.3 282.03 307.3 282.15 310.5 282.28 313.2 282.40 312.8 282.52 307.8 282.64 306.5 282.76 307.4 282.88 311.8 283.01 315.0 283.13 317.4 M283.86 297.8 283.98 302.7 284.10 306.8 284.22 310.1 284.35 312.9 284.47 315.1 284.59 317.0 284.71 318.4 284.83 319.6 284.95 312.2 285.08 315.5 M285.32 300.6 285.44 306.7 285.56 311.2 285.68 314.2 285.81 315.1 285.93 317.6 286.05 314.8 286.17 306.7 286.29 307.7 286.41 311.6 286.54 309.1 286.66 313.0 286.78 315.8 286.90 315.6 287.02 316.6 287.15 318.4 287.27 313.5 287.39 308.8 287.51 311.7 287.63 313.0 287.75 315.6 287.88 316.4 288.00 308.0 288.12 306.2 288.24 309.3 M288.97 297.2 289.09 302.0 289.22 300.6 289.34 305.9 289.46 310.5 289.58 312.8 289.70 306.4 289.82 302.7 289.95 307.8 290.07 311.8 290.19 315.0 290.31 314.4 M290.92 298.3 291.04 303.0 291.16 306.8 291.28 310.0 291.41 304.1 291.53 307.5 291.65 311.6 291.77 303.5 291.89 300.7 M292.14 302.6 292.26 305.4 292.38 309.9 292.50 311.4 292.62 314.3 292.75 307.6 292.87 309.4 292.99 312.2 M293.48 298.5 293.60 302.9 293.72 306.5 293.84 309.5 M294.69 295.7 294.82 300.6 294.94 304.6 295.06 301.5 295.18 306.3 295.30 310.4 M295.91 296.4 296.03 301.0 296.15 304.8 M296.52 297.6 296.64 301.9 296.76 305.4 296.89 308.2 297.01 310.5 297.13 312.3 297.25 313.7 297.37 313.3 297.49 314.8 297.62 300.3 297.74 305.1 297.86 308.8 297.98 309.2 298.10 311.7 298.22 298.6 298.35 298.1 298.47 299.2 M299.56 297.3 299.69 301.6 299.81 305.1 299.93 308.0 300.05 309.4 300.17 301.8 300.29 302.1 300.42 301.1 300.54 305.6 300.66 306.9 300.78 310.5 300.90 312.8 301.02 310.0 301.15 312.5 301.27 310.1 301.39 303.1 M301.63 298.9 301.76 298.4 301.88 302.5 302.00 306.7 302.12 309.3 302.24 306.3 302.36 305.0 302.49 308.3 302.61 310.2 302.73 306.8 302.85 308.8 302.97 310.6 303.09 307.3 303.22 309.7 303.34 311.0 303.46 312.3 303.58 313.3 303.70 311.8 303.83 312.1 M304.19 293.4 304.31 296.0 304.43 300.6 304.56 304.0 304.68 306.2 304.80 308.1 304.92 309.3 305.04 308.1 305.16 309.9 305.29 305.0 305.41 307.8 305.53 305.2 305.65 306.4 305.77 305.5 305.89 308.2 306.02 310.1 306.14 311.4 306.26 309.3 306.38 310.4 306.50 309.0 306.63 310.8 306.75 312.2 306.87 313.2 306.99 312.4 307.11 311.6 307.23 312.8 307.36 297.4 307.48 302.5 307.60 306.3 307.72 309.1 307.84 311.2 307.96 312.7 308.09 313.8 308.21 313.0 308.33 312.2 308.45 309.1 308.57 311.0 308.70 312.4 308.82 313.3 308.94 314.0 309.06 314.4 309.18 314.6 309.30 313.6 309.43 310.5 309.55 311.8 309.67 310.3 309.79 311.6 309.91 299.5 310.03 303.3 310.16 306.0 310.28 298.6 310.40 302.8 310.52 306.0 310.64 307.4 M310.89 292.6 311.01 297.1 311.13 301.6 311.25 296.2 M311.74 293.4 311.86 297.5 311.98 299.8 312.10 303.5 312.23 297.0 312.35 301.6 312.47 305.1 M312.83 289.3 312.96 292.7 313.08 298.4 313.20 302.7 313.32 305.8 313.44 303.6 313.57 304.8 313.69 305.8 313.81 308.0 313.93 309.9 314.05 300.9 314.17 299.4 314.30 303.7 314.42 306.8 314.54 296.7 314.66 294.2 314.78 297.3 314.90 295.7 315.03 300.8 315.15 304.9 315.27 307.8 315.39 309.9 315.51 310.1 315.63 310.9 315.76 308.4 315.88 310.1 316.00 310.9 316.12 311.9 316.24 311.4 316.37 308.5 316.49 309.6 316.61 310.2 316.73 310.2 316.85 299.7 316.97 303.3 317.10 305.8 317.22 305.2 M317.46 286.7 317.58 291.4 317.70 295.2 317.83 298.2 317.95 295.2 318.07 299.4 318.19 302.0 318.31 304.2 318.43 305.0 318.56 306.0 318.68 304.2 318.80 305.9 318.92 305.3 319.04 306.7 319.17 306.6 319.29 301.5 319.41 303.8 319.53 305.0 319.65 306.1 319.77 304.1 319.90 304.3 M320.14 286.5 320.26 292.8 320.38 296.8 M320.75 287.6 320.87 285.3 M321.60 284.1 321.72 289.2 321.84 293.4 321.97 296.8 322.09 285.2 322.21 292.0 322.33 297.0 322.45 300.8 322.57 298.3 322.70 288.6 322.82 294.5 322.94 299.0 323.06 302.3 323.18 304.5 323.30 305.8 M323.79 286.2 323.91 291.0 324.04 294.9 324.16 298.0 324.28 291.4 324.40 296.7 324.52 289.2 324.64 293.4 324.77 289.6 324.89 295.3 325.01 299.6 325.13 302.7 325.25 303.9 M325.86 283.2 325.98 288.4 326.11 292.7 326.23 296.2 326.35 294.5 326.47 297.1 326.59 300.7 326.71 302.5 326.84 286.6 326.96 292.8 327.08 295.9 327.20 299.7 327.32 302.5 327.44 299.7 327.57 302.4 327.69 304.4 327.81 305.8 327.93 303.8 328.05 304.1 328.17 298.5 328.30 301.4 328.42 303.4 M330.00 282.6 330.12 287.5 330.24 291.6 M330.61 280.9 330.73 286.1 330.85 290.5 330.98 278.9 331.10 281.6 331.22 288.7 331.34 294.1 331.46 297.4 331.58 299.5 331.71 279.1 331.83 285.9 331.95 278.8 332.07 286.6 332.19 285.7 332.31 291.9 M332.68 277.9 332.80 283.8 332.92 288.6 333.04 292.6 333.17 295.9 333.29 298.5 333.41 300.6 333.53 302.2 333.65 303.5 333.78 304.5 333.90 305.3 M334.51 279.8 334.63 285.2 334.75 289.7 334.87 293.3 334.99 296.2 335.11 295.9 335.24 298.9 335.36 296.3 335.48 293.1 335.60 296.0 335.72 299.2 335.85 301.5 M336.09 277.7 336.21 283.3 336.33 287.8 M336.70 278.9 336.82 284.1 336.94 288.4 337.06 291.8 337.18 294.6 337.31 296.8 337.43 298.2 337.55 299.8 337.67 300.9 337.79 288.9 337.91 281.6 338.04 286.4 338.16 280.8 M339.38 281.6 339.50 288.5 M339.86 282.7 339.98 292.9 340.11 279.6 340.23 291.0 340.35 295.7 340.47 289.1 340.59 300.0 340.72 298.6 340.84 299.6 340.96 295.6 341.08 288.5 341.20 277.2 341.32 280.8 M342.05 279.2 342.18 281.5 342.30 276.5 M342.78 274.9 342.91 277.4 M343.15 273.6 343.27 279.5 343.39 284.3 343.52 288.3 343.64 291.4 343.76 294.0 343.88 296.0 344.00 297.6 344.12 298.8 344.25 299.8 344.37 300.5 344.49 301.1 344.61 301.5 344.73 301.8 344.85 301.5 M345.34 274.3 345.46 279.7 345.59 284.1 345.71 287.7 345.83 286.2 345.95 290.4 346.07 292.6 346.19 271.0 346.32 277.4 346.44 280.1 M346.68 275.5 346.80 280.8 M347.05 269.5 347.17 278.3 347.29 283.3 347.41 271.3 347.53 279.3 347.65 277.8 347.78 278.9 347.90 285.6 348.02 279.1 348.14 274.0 348.26 280.5 348.39 286.7 348.51 291.2 348.63 291.6 M349.12 270.0 349.24 276.2 349.36 281.2 349.48 285.3 349.60 288.6 349.72 291.3 349.85 271.1 349.97 279.2 350.09 285.1 M350.58 268.9 350.70 274.9 350.82 280.0 350.94 284.2 351.06 287.7 351.19 290.5 351.31 291.8 M351.92 273.0 352.04 278.7 352.16 283.3 352.28 286.8 352.40 290.2 352.52 292.7 352.65 289.8 352.77 293.4 352.89 284.3 353.01 281.1 353.13 285.4 353.26 288.9 353.38 290.0 353.50 292.7 353.62 295.4 353.74 296.8 353.86 268.0 353.99 269.3 354.11 277.6 354.23 284.1 M354.47 270.2 354.59 276.0 354.72 279.5 354.84 285.0 354.96 288.2 355.08 287.0 355.20 290.9 355.33 293.1 355.45 293.5 355.57 290.7 355.69 292.0 355.81 294.3 355.93 273.9 356.06 281.0 M356.30 273.7 356.42 278.7 356.54 276.1 356.66 272.4 356.79 279.6 356.91 282.3 M357.15 270.7 357.27 276.3 357.39 280.9 357.52 284.6 357.64 287.6 357.76 273.0 357.88 280.1 358.00 283.4 358.13 287.8 358.25 291.0 358.37 275.4 358.49 271.2 M359.22 267.5 359.34 273.4 359.46 278.1 359.59 282.0 359.71 285.1 359.83 287.6 359.95 275.6" fill="none" stroke="#d9202e" stroke-width="0.85" stroke-linejoin="round"/>
<path d="M360.07 281.5 360.20 284.3 360.32 287.5 360.44 290.1 360.56 289.9 360.68 291.7 360.80 293.0 360.93 294.0 M362.51 262.0 362.63 270.7 M364.21 265.9 364.33 271.6 364.46 276.2 364.58 280.0 364.70 283.1 364.82 285.5 364.94 283.0 365.07 278.9 365.19 276.0 365.31 279.6 365.43 265.3 365.55 264.3 365.67 272.0 365.80 278.1 365.92 267.5 M366.28 260.4 366.40 267.1 366.53 272.5 366.65 277.0 366.77 280.7 366.89 282.8 367.01 286.1 367.13 281.7 367.26 282.7 M367.99 263.5 368.11 269.8 368.23 275.0 368.35 279.3 368.47 282.8 368.60 285.7 368.72 288.0 368.84 289.9 368.96 291.4 369.08 287.1 369.20 258.9 369.33 262.5 369.45 267.2 369.57 267.6 M370.79 270.6 370.91 257.8 371.03 270.5 371.15 272.6 371.27 270.7 371.40 278.3 371.52 273.6 371.64 271.1 371.76 257.4 M373.22 265.4 373.34 260.0 373.47 262.8 373.59 279.1 373.71 280.2 373.83 280.9 373.95 282.5 374.07 281.3 374.20 284.5 374.32 286.8 374.44 288.7 374.56 281.7 374.68 269.2 374.80 263.3 374.93 256.1 M376.87 258.0 377.00 265.0 377.12 270.7 377.24 275.4 377.36 279.1 377.48 282.1 377.61 284.5 377.73 272.2 M378.94 263.9 379.07 271.2 379.19 272.2 379.31 273.9 379.43 279.6 M379.67 256.7 379.80 263.9 379.92 269.9 M380.28 254.6 380.41 262.3 380.53 267.1 380.65 274.0 380.77 276.3 380.89 278.5 381.01 283.0 381.14 282.5 381.26 285.8 381.38 284.5 381.50 280.2 381.62 284.0 381.74 281.3 381.87 282.6 M382.11 254.7 382.23 261.9 382.35 267.8 382.48 256.8 382.60 266.2 382.72 272.8 382.84 277.8 382.96 280.6 383.08 266.4 383.21 271.1 383.33 270.9 M383.94 254.1 384.06 261.4 384.18 267.4 384.30 272.3 384.42 276.3 384.54 260.2 384.67 268.7 384.79 265.8 384.91 270.9 385.03 273.2 385.15 274.9 385.28 279.8 385.40 283.4 385.52 286.1 385.64 288.0 385.76 273.6 385.88 278.2 386.01 264.6 386.13 255.4 M387.22 266.1 387.35 258.0 387.47 263.6 387.59 277.5 387.71 275.8 387.83 265.8 387.95 271.3 388.08 268.8 M388.56 252.6 388.68 259.4 M389.05 262.0 389.17 257.8 389.29 262.3 389.41 274.5 389.54 272.4 389.66 276.4 389.78 279.1 389.90 280.3 390.02 277.4 390.15 280.7 390.27 282.7 390.39 281.2 390.51 280.1 390.63 275.5 390.75 268.5 390.88 257.9 M391.73 255.6 391.85 257.8 M392.09 253.4 392.22 260.4 392.34 266.2 392.46 271.0 392.58 274.9 392.70 278.1 392.82 270.1 392.95 259.9 393.07 268.3 393.19 262.1 393.31 269.9 393.43 275.7 393.55 278.2 393.68 281.8 393.80 270.6 M394.41 257.5 394.53 266.3 394.65 273.0 394.77 268.4 394.89 274.4 395.02 278.7 395.14 279.8 395.26 282.9 395.38 281.8 395.50 283.0 395.62 285.1 395.75 283.2 395.87 281.9 395.99 284.1 396.11 285.7 396.23 276.6 M397.21 252.3 397.33 259.2 397.45 264.9 397.57 269.5 397.69 258.4 M397.94 250.8 398.06 259.4 398.18 260.2 398.30 256.1 M398.91 258.4 399.03 264.6 399.15 268.4 399.28 264.6 399.40 269.6 399.52 274.6 399.64 278.2 399.76 280.9 399.89 282.7 400.01 276.7 400.13 276.8 400.25 279.0 400.37 278.5 400.49 280.0 400.62 275.4 400.74 278.3 400.86 280.8 400.98 275.5 401.10 278.8 401.22 253.3 M401.71 251.5 401.83 259.5 401.96 267.0 402.08 272.6 402.20 276.7 402.32 255.6 402.44 252.7 402.56 261.9 402.69 268.4 402.81 270.1 M403.05 250.5 403.17 269.3 403.29 260.4 M404.88 252.1 405.00 269.6 405.12 268.5 405.24 275.9 405.36 273.6 405.49 274.2 405.61 270.5 405.73 273.3 405.85 276.0 405.97 261.1 406.09 278.6 406.22 281.0 406.34 277.9 406.46 280.3 406.58 280.7 406.70 284.0 406.83 281.4 406.95 275.7 407.07 273.0 407.19 257.2 407.31 257.3 407.43 267.9 407.56 263.9 407.68 279.2 407.80 266.3 407.92 253.8 M409.50 253.2 409.63 258.8 M409.99 265.4 410.11 256.6 M410.48 252.0 410.60 258.7 410.72 264.3 410.84 268.9 410.96 272.7 411.09 275.8 411.21 277.6 411.33 273.0 411.45 275.5 411.57 253.9 411.70 262.4 411.82 269.1 411.94 274.0 M413.28 253.7 413.40 260.4 413.52 260.8 M414.13 253.7 414.25 260.4 414.37 265.9 414.50 270.4 M414.74 252.2 414.86 261.4 414.98 265.6 415.10 258.5 415.23 257.7 415.35 265.9 415.47 271.4 415.59 276.1 415.71 279.5 415.83 276.3 415.96 271.9 416.08 273.8 M416.69 250.7 416.81 258.0 416.93 264.0 417.05 268.9 417.17 273.0 417.30 276.2 417.42 278.9 417.54 281.0 417.66 282.7 417.78 280.7 417.90 283.1 418.03 280.9 418.15 278.4 418.27 272.4 M419.85 269.2 419.97 270.7 420.10 265.6 420.22 271.7 420.34 276.6 420.46 276.2 420.58 278.8 420.70 281.1 420.83 280.0 420.95 285.4 421.07 279.6 421.19 270.1 421.31 279.5 421.43 272.8 421.56 276.0 421.68 281.6 421.80 286.4 421.92 286.5 422.04 269.6 422.17 274.0 422.29 277.5 422.41 276.9 422.53 276.9 422.65 275.0 422.77 279.8 422.90 283.0 M423.63 254.4 423.75 261.6 423.87 267.6 423.99 272.4 424.11 263.8 424.24 269.0 424.36 272.7 424.48 278.0 424.60 281.9 424.72 271.4 424.84 277.0 424.97 278.2 425.09 283.5 425.21 274.3 425.33 270.8 425.45 263.7 M426.55 273.0 426.67 279.3 426.79 267.7 426.91 276.2 427.04 276.4 M427.64 256.7 427.77 263.8 427.89 261.4 428.01 275.9 428.13 268.1 428.25 269.7 428.37 284.0 428.50 277.9 428.62 284.2 428.74 284.8 428.86 287.4 428.98 285.8 429.11 265.3 429.23 272.8 429.35 278.3 429.47 282.3 M429.84 255.6 429.96 262.6 430.08 268.4 430.20 273.2 430.32 277.0 430.44 280.1 430.57 282.6 430.69 284.6 M431.17 257.1 431.30 263.8 431.42 269.4 431.54 273.9 431.66 277.5 431.78 280.5 431.91 282.9 432.03 253.0 432.15 260.4 432.27 266.5 432.39 271.5 432.51 275.6 432.64 278.9 432.76 281.5 432.88 283.6 433.00 278.1 433.12 281.8 433.24 284.6 M433.85 256.3 433.98 265.8 434.10 270.1 434.22 276.2 434.34 270.9 434.46 275.7 M435.07 255.1 435.19 262.2 435.31 268.1 435.44 273.0 435.56 276.9 435.68 280.1 435.80 282.7 435.92 284.1 436.04 270.3 M436.29 260.2 436.41 267.8 436.53 274.2 436.65 268.7 436.78 273.9 436.90 279.0 437.02 282.4 437.14 285.1 437.26 279.9 437.38 283.4 437.51 285.9 437.63 285.6 M438.48 255.2 438.60 262.3 438.72 268.2 438.85 273.0 438.97 277.0 439.09 280.2 439.21 272.7 439.33 268.8 M440.06 260.9 440.18 269.5 440.31 275.9 440.43 279.9 440.55 280.5 440.67 284.1 440.79 280.3 440.91 282.9 M441.28 261.2 441.40 265.1 441.52 272.4 441.65 276.4 441.77 279.4 M442.13 258.2 442.25 264.8 442.38 270.2 442.50 274.7 442.62 259.7 442.74 268.4 442.86 274.2 442.98 279.2 443.11 274.5 443.23 276.7 443.35 279.8 443.47 266.3 443.59 273.4 443.72 263.2 443.84 265.4 443.96 272.7 444.08 278.2 M444.32 263.2 444.45 270.8 444.57 268.8 444.69 275.3 444.81 280.1 444.93 282.2 445.05 270.7 445.18 276.7 445.30 281.1 M446.03 259.5 446.15 265.7 446.27 270.9 446.39 275.1 446.52 278.5 446.64 281.2 446.76 283.3 446.88 285.0 447.00 286.3 447.12 276.6 447.25 280.7 447.37 283.6 447.49 285.8 447.61 286.1 447.73 279.3 447.85 282.6 447.98 264.6 448.10 271.7 448.22 277.0 448.34 279.8 448.46 277.8 448.59 279.8 448.71 283.0 448.83 271.2 M449.44 259.8 449.56 266.0 449.68 271.1 449.80 275.2 449.92 278.6 450.05 279.1 450.17 280.4 450.29 257.8 450.41 262.1 M450.65 262.7 450.78 270.7 450.90 271.6 451.02 276.6 451.14 278.6 451.26 281.9 M451.63 258.1 451.75 265.0 451.87 270.7 451.99 275.5 452.12 279.4 452.24 282.6 452.36 269.4 452.48 275.6 452.60 280.2 M452.85 265.4 452.97 273.6 M453.21 263.9 453.33 270.2 453.46 277.0 453.58 282.0 453.70 285.7 453.82 284.2 453.94 272.4 454.06 277.8 454.19 282.4 454.31 285.7 M455.04 264.4 455.16 270.0 455.28 274.5 455.40 278.2 455.52 268.7 455.65 275.2 455.77 280.0 455.89 283.6 456.01 283.7 456.13 282.9 456.26 280.6 456.38 275.3 456.50 280.2 M456.74 262.2 456.86 268.1 456.99 272.9 457.11 276.9 457.23 280.1 457.35 282.6 457.47 284.7 457.59 286.3 457.72 287.6 457.84 288.6 457.96 286.6 458.08 284.8 458.20 287.0 458.33 288.6 458.45 283.5 M459.06 263.9 459.18 269.7 459.30 274.6 459.42 271.1 459.54 277.3 459.66 281.5 459.79 285.2 459.91 287.9 460.03 289.7 460.15 290.6 460.27 291.8 460.39 292.6 460.52 293.2 460.64 293.8 460.76 294.2 460.88 291.4 461.00 292.7 461.13 291.9 461.25 293.0 461.37 289.7 461.49 291.1 461.61 286.6 461.73 282.8 461.86 261.1 461.98 270.2 462.10 277.4 462.22 282.1 M462.83 262.7 462.95 269.4 463.07 275.0 463.20 279.5 463.32 283.1 M463.68 265.1 463.80 271.1 463.93 276.0 464.05 280.0 464.17 281.6 464.29 283.8 464.41 286.5 464.53 289.1 464.66 290.5 464.78 289.8 464.90 291.3 465.02 292.3 465.14 279.3 465.26 283.5 465.39 286.6 465.51 280.8 465.63 282.1 465.75 285.6 465.87 283.0 M466.36 266.1 466.48 270.1 466.60 274.8 466.73 280.5 466.85 280.5 466.97 263.7 467.09 267.9 467.21 275.6 467.33 271.2 467.46 271.3 467.58 271.7 467.70 278.4 467.82 283.2 467.94 286.5 468.07 279.8 468.19 284.7 468.31 288.3 468.43 289.3 468.55 291.6 468.67 279.1 468.80 282.7 468.92 285.7 469.04 288.1 469.16 290.0 469.28 291.5 469.40 292.7 M469.77 271.4 469.89 278.3 470.01 283.5 470.13 275.8 470.26 281.7 470.38 283.3 470.50 287.2 470.62 287.5 470.74 285.0 470.87 275.8 470.99 281.6 471.11 285.8 471.23 288.9 471.35 286.1 471.47 283.1 M471.96 270.2 472.08 266.0 472.20 273.3 472.33 279.6 472.45 282.7 472.57 281.3 472.69 285.4 472.81 271.2 472.93 275.2 473.06 280.6 473.18 283.2 473.30 286.4 473.42 285.0 473.54 287.9 M473.79 266.4 473.91 274.7 M474.27 267.4 474.40 275.6 474.52 273.5 474.64 278.3 474.76 265.1 474.88 274.0 475.00 278.9 475.13 276.6 475.25 282.9 475.37 282.2 475.49 285.7 M475.74 270.9 475.86 276.5 475.98 281.1 476.10 284.9 476.22 287.9 476.34 286.8 476.47 282.5 476.59 282.1 476.71 280.1 476.83 285.2 476.95 284.5 477.07 271.4 477.20 276.4 477.32 282.7 477.44 282.3 477.56 284.2 477.68 288.5 477.80 291.6 477.93 293.8 M478.17 273.6 478.29 280.3 478.41 279.7 478.54 285.2 478.66 289.2 478.78 292.2 478.90 288.0 479.02 284.3 479.14 287.0 479.27 278.7 M479.51 266.3 479.63 272.7 479.75 274.0 479.87 279.9 480.00 285.4 480.12 288.8 480.24 291.1 480.36 292.9 M480.61 274.3 480.73 280.2 480.85 278.6 480.97 282.4 481.09 283.5 481.21 288.0 481.34 291.2 481.46 293.6 M481.82 269.5 481.94 272.3 M482.31 267.1 482.43 274.3 482.55 281.0 482.67 286.0 482.80 289.6 482.92 292.2 483.04 294.1 483.16 295.4 483.28 290.9 483.41 292.6 483.53 294.5 483.65 295.9 483.77 279.1 483.89 278.2 484.01 280.0 484.14 285.5 484.26 288.5 484.38 291.7 484.50 293.0 M484.87 269.7 484.99 275.6 485.11 280.5 485.23 284.5 485.35 287.8 485.48 290.5 485.60 292.7 485.72 294.4 485.84 290.8 485.96 293.0 486.08 294.7 486.21 293.5 486.33 292.6 486.45 293.5 486.57 293.0 486.69 291.6 486.81 292.0 486.94 294.3 487.06 279.3 487.18 282.8 487.30 284.6 487.42 288.1 487.54 290.5 487.67 284.4 487.79 282.4 487.91 287.1 488.03 290.4 488.15 283.1 488.28 272.5 M489.01 272.3 489.13 279.6 489.25 285.2 489.37 289.3 489.49 290.6 489.61 278.8 489.74 278.2 489.86 284.2 489.98 287.4 490.10 274.6 490.22 281.5 M490.95 271.3 491.08 276.9 491.20 280.0 491.32 285.1 491.44 285.5 M492.41 273.9 492.54 278.9 492.66 283.0 492.78 286.3 492.90 289.0 493.02 291.1 493.15 292.8 493.27 272.1 493.39 272.2 493.51 279.5 M494.00 273.4 494.12 278.5 494.24 282.7 494.36 285.1 494.48 272.4 494.61 279.7 494.73 270.9 M494.97 271.0 495.09 278.4 495.22 284.2 495.34 288.5 495.46 291.6 M496.19 272.6 496.31 278.1 496.43 282.7 496.55 286.5 496.68 289.6 496.80 292.2 496.92 291.6 497.04 283.2 497.16 288.5 497.28 292.4 497.41 295.4 497.53 297.0 497.65 298.8 497.77 300.1 497.89 299.4 498.02 300.7 498.14 301.6 498.26 296.1 498.38 298.1 498.50 280.1 498.62 286.2 498.75 282.4 498.87 286.8 498.99 291.2 499.11 294.3 499.23 296.4 499.35 278.9 499.48 278.2 499.60 271.1 499.72 274.1 499.84 281.5 499.96 283.1" fill="none" stroke="#d9202e" stroke-width="0.55" stroke-linejoin="round"/>
<path d="M500.09 285.9 500.21 289.7 500.33 278.1 500.45 283.6 M501.30 276.3 501.42 281.3 M501.91 273.7 502.03 279.2 502.15 283.7 502.28 274.0 502.40 280.7 502.52 279.8 M502.76 274.5 502.89 279.9 503.01 284.3 503.13 288.0 503.25 290.9 503.37 285.4 503.49 290.0 503.62 293.2 503.74 291.7 503.86 294.5 503.98 296.6 504.10 298.2 504.22 294.3 M504.59 276.5 504.71 281.5 504.83 285.5 504.96 288.9 505.08 291.5 505.20 288.9 M506.54 277.1 506.66 281.9 506.78 285.8 506.90 289.0 507.02 288.7 507.15 292.4 507.27 294.7 M508.12 271.8 508.24 277.5 M509.09 271.8 509.22 277.6 509.34 282.3 M509.95 272.7 510.07 278.3 510.19 282.9 510.31 286.6 510.43 289.7 510.56 292.1 510.68 294.1 510.80 272.7 510.92 280.5 511.04 285.3 511.16 284.5 511.29 278.5 511.41 283.2 511.53 286.8 M512.02 275.9 512.14 281.2 512.26 285.5 512.38 289.1 512.50 292.0 512.63 294.3 512.75 295.4 512.87 297.7 512.99 294.2 513.11 296.9 513.23 297.5 M513.60 272.5 513.72 278.3 513.84 283.1 513.96 287.1 514.09 290.2 514.21 292.8 514.33 294.8 514.45 290.7 M515.06 276.5 515.18 281.5 515.30 280.0 515.43 285.6 M516.64 277.3 516.76 282.2 516.89 286.3 517.01 289.5 517.13 292.2 517.25 294.3 517.37 296.0 517.50 297.4 517.62 298.5 517.74 295.0 517.86 297.2 517.98 297.9 518.10 299.0 518.23 300.0 518.35 277.5 518.47 281.9 518.59 287.5 518.71 291.4 518.83 294.6 518.96 296.8 519.08 283.8 519.20 289.0 519.32 292.8 M519.69 275.9 519.81 281.1 519.93 285.4 520.05 288.9 520.17 287.1 520.30 290.3 M520.90 274.1 521.03 279.7 521.15 284.4 521.27 288.2 521.39 291.3 521.51 292.8 521.63 294.6 521.76 293.0 521.88 296.0 522.00 298.3 522.12 299.9 522.24 301.1 522.37 302.0 522.49 302.5 522.61 302.9 522.73 298.2 522.85 289.6 522.97 293.8 523.10 280.0 523.22 286.6 523.34 290.2 523.46 294.2 523.58 291.0 523.70 293.4 523.83 296.5 523.95 298.7 524.07 300.2 524.19 298.8 524.31 300.3 524.43 301.4 M524.80 274.8 524.92 280.4 525.04 285.0 525.17 288.7 525.29 287.4 M525.77 278.3 525.90 283.3 526.02 287.3 526.14 290.6 526.26 293.2 526.38 295.4 526.50 290.3 526.63 294.0 526.75 296.7 526.87 298.6 526.99 296.9 527.11 297.3 527.24 295.8 M527.60 274.1 527.72 279.7 527.84 284.4 527.97 281.9 528.09 287.7 528.21 292.0 528.33 295.1 528.45 295.5 528.57 284.5 528.70 289.1 528.82 285.4 528.94 290.2 529.06 290.7 529.18 294.0 529.30 296.4 529.43 298.1 529.55 298.8 529.67 299.8 529.79 286.8 529.91 291.1 530.04 292.2 530.16 289.7 530.28 292.4 M530.64 274.9 530.77 280.1 530.89 284.4 531.01 287.8 531.13 290.6 M531.62 276.8 531.74 281.6 531.86 283.9 531.98 288.6 532.11 291.2 532.23 293.2 532.35 294.8 532.47 296.0 532.59 297.0 532.71 297.8 532.84 293.1 M533.44 277.0 533.57 281.9 533.69 285.9 533.81 289.2 533.93 291.9 534.05 292.1 534.17 295.0 534.30 294.9 M534.66 275.4 534.78 280.8 534.91 285.3 535.03 289.0 535.15 292.1 535.27 294.6 535.39 296.6 535.51 298.3 535.64 297.5 535.76 296.0 535.88 297.0 536.00 299.1 536.12 300.5 536.24 292.2 536.37 292.1 536.49 295.5 536.61 288.1 536.73 291.7 536.85 294.4 536.98 297.2 537.10 299.2 537.22 300.1 537.34 301.2 537.46 302.0 537.58 302.6 537.71 301.8 537.83 301.9 537.95 302.6 538.07 298.9 538.19 300.2 538.31 301.2 538.44 301.9 538.56 302.4 538.68 302.7 538.80 299.5 538.92 300.6 539.04 300.0 539.17 300.8 539.29 301.4 M539.65 276.5 539.78 281.6 539.90 283.5 540.02 288.7 540.14 285.7 540.26 289.7 M541.60 275.1 541.72 280.8 M541.97 279.6 542.09 285.1 542.21 287.8 542.33 290.0 542.45 293.6 542.58 290.7 542.70 294.1 542.82 291.9 542.94 292.1 543.06 288.5 543.18 292.6 543.31 295.6 543.43 297.6 M543.91 276.1 544.04 281.4 544.16 285.7 544.28 289.2 544.40 292.1 544.52 288.1 544.65 291.0 544.77 294.5 544.89 297.0 545.01 298.8 545.13 297.1 545.25 294.0 545.38 296.1 545.50 298.2 545.62 299.7 545.74 300.7 545.86 284.3 545.98 288.1 546.11 289.3 546.23 293.3 546.35 295.7 546.47 296.2 546.59 298.0 546.72 297.7 546.84 298.4 546.96 299.8 547.08 300.8 547.20 301.6 547.32 302.1 547.45 297.8 547.57 298.5 547.69 299.9 547.81 296.0 547.93 296.3 548.05 297.3 548.18 298.4 548.30 294.5 548.42 297.0 548.54 298.9 548.66 300.2 548.78 299.9 548.91 299.7 549.03 296.8 549.15 294.4 549.27 284.5 M553.29 277.2 553.41 282.2 553.53 286.2 553.65 289.6 553.78 292.3 553.90 294.5 554.02 296.3 554.14 297.8 554.26 298.8 M555.85 279.9 555.97 284.5 556.09 288.2 556.21 291.2 556.33 293.6 556.46 295.5 M556.82 277.8 556.94 282.5 557.06 286.3 557.19 289.4 557.31 291.8 557.43 293.7 557.55 295.2 557.67 295.8 557.79 297.2 557.92 297.8 558.04 295.9 558.16 287.8 558.28 287.8 558.40 286.0 558.52 289.2 558.65 291.8 558.77 294.0 558.89 295.7 M561.33 287.9 561.45 281.8 M561.81 276.8 561.93 280.4 562.06 281.0 562.18 278.4 M562.91 276.8 563.03 286.1 563.15 290.6 563.27 288.7 563.39 289.0 M564.37 275.3 564.49 281.0 564.61 285.7 564.73 289.6 564.86 292.8 564.98 295.4 565.10 289.3 565.22 292.6 M565.59 280.9 565.71 285.8 565.83 289.8 565.95 293.1 566.07 295.8 566.20 286.9 566.32 288.5 566.44 293.2 566.56 296.3 566.68 298.4 566.80 300.8 566.93 288.5 567.05 293.5 567.17 297.3 567.29 295.5 567.41 298.8 567.53 301.2 567.66 284.6 567.78 288.0 567.90 293.4 M568.39 280.7 568.51 285.8 568.63 290.1 568.75 293.5 568.87 296.3 569.00 297.2 569.12 300.0 569.24 281.4 569.36 288.3 569.48 293.5 569.60 297.3 569.73 300.1 569.85 295.7 569.97 296.8 570.09 299.4 570.21 301.5 570.33 303.0 570.46 302.3 570.58 293.3 570.70 296.9 570.82 299.5 570.94 301.3 571.07 302.5 571.19 303.3 571.31 303.8 571.43 304.1 571.55 304.3 571.67 304.2 571.80 304.2 571.92 304.1 572.04 304.0 572.16 303.9 572.28 303.7 M572.89 279.5 573.01 283.9 573.13 287.5 573.26 290.5 573.38 292.9 573.50 294.8 573.62 296.3 573.74 297.4 573.87 295.0 573.99 297.0 574.11 298.4 574.23 296.7 574.35 297.7 574.47 298.6 574.60 286.8 574.72 290.2 574.84 293.4 574.96 279.3 575.08 282.2 575.20 278.7 575.33 284.8 575.45 289.3 575.57 292.6 575.69 295.1 575.81 296.3 575.93 297.7 576.06 298.7 576.18 299.4 576.30 300.1 M576.79 278.6 576.91 283.4 577.03 287.4 577.15 290.7 577.27 293.4 577.40 295.6 577.52 295.9 577.64 298.2 577.76 289.0 577.88 293.3 578.00 294.7 578.13 296.4 578.25 298.5 578.37 300.0 578.49 297.2 578.61 299.0 578.74 297.0 578.86 298.4 578.98 283.3 579.10 288.2 579.22 291.4 579.34 292.9 579.47 292.8 579.59 295.5 579.71 284.8 579.83 289.5 M580.20 275.9 580.32 280.8 580.44 284.8 580.56 288.0 580.68 290.7 580.80 292.9 580.93 283.1 581.05 286.8 581.17 289.8 581.29 283.3 581.41 288.4 581.54 291.0 581.66 294.0 581.78 296.2 581.90 297.8 M582.51 277.9 582.63 282.7 582.75 286.6 582.87 289.8 583.00 288.5 583.12 292.4 583.24 294.2 583.36 296.6 583.48 291.5 M583.97 277.0 584.09 282.1 584.21 286.2 584.34 289.6 584.46 292.3 584.58 294.5 584.70 296.2 584.82 297.7 M585.07 275.5 585.19 280.8 585.31 277.8 585.43 284.6 585.55 288.3 585.67 292.4 585.80 295.3 585.92 294.3 586.04 296.5 586.16 298.1 586.28 282.5 586.41 283.2 586.53 288.2 M586.89 276.3 587.01 281.0 587.14 284.9 587.26 287.9 587.38 290.4 587.50 292.3 587.62 293.8 587.74 294.9 587.87 295.4 587.99 296.4 588.11 296.9 588.23 287.8 588.35 291.0 588.48 293.3 588.60 294.1 588.72 295.5 588.84 296.5 588.96 297.2 589.08 297.6 589.21 298.0 589.33 293.5 M589.81 277.7 589.94 281.9 590.06 284.5 590.18 288.5 590.30 280.8 M592.98 284.3 593.10 279.1 593.22 283.5 593.35 287.2 593.47 290.1 593.59 292.5 593.71 294.4 593.83 295.4 593.95 297.1 594.08 297.7 594.20 298.1 594.32 295.6 594.44 297.3 594.56 298.2 594.68 299.1 594.81 299.6 594.93 300.0 595.05 299.7 595.17 300.2 595.29 300.5 595.41 300.7 595.54 300.9 595.66 297.8 595.78 298.8 595.90 299.2 596.02 299.8 596.15 294.4 596.27 296.3 596.39 297.3 596.51 298.3 596.63 296.5 596.75 296.3 596.88 297.0 597.00 298.1 597.12 289.0 597.24 292.4 597.36 294.8 597.48 296.3 597.61 295.7 597.73 296.4 597.85 297.7 597.97 298.6 598.09 299.2 598.22 298.4 598.34 299.1 598.46 299.6 598.58 298.9 598.70 299.5 598.82 299.4 598.95 299.9 599.07 300.0 599.19 300.3 599.31 299.3 599.43 299.8 599.55 300.1 599.68 299.5 599.80 299.2 599.92 299.7 600.04 300.0 600.16 297.0 600.28 297.6 600.41 298.6 600.53 298.1 600.65 297.9 600.77 294.8 600.89 293.9 M601.26 278.0 601.38 282.5 601.50 286.1 601.62 289.1 601.75 291.4 601.87 293.3 601.99 294.8 602.11 296.0 602.23 296.9 M602.72 274.3 602.84 279.3 602.96 283.4 603.09 281.7 603.21 285.4 603.33 288.3 603.45 290.7 603.57 292.6 603.69 294.1 603.82 295.3 603.94 289.6 604.06 275.2 M605.15 280.1 605.28 274.1 605.40 286.7 605.52 282.6 605.64 287.7 605.76 284.1 605.89 282.6 M607.71 277.9 607.83 283.5 607.96 277.1 608.08 286.2 608.20 286.3 608.32 289.6 608.44 296.4 608.56 293.4 608.69 298.4 608.81 296.4 608.93 297.1 609.05 297.4 609.17 298.2 609.29 298.9 609.42 299.4 609.54 299.8 609.66 300.1 609.78 300.4 609.90 300.6 610.02 300.7 610.15 295.3 610.27 294.7 610.39 296.1 610.51 297.6 610.63 295.2 610.76 296.9 610.88 298.2 611.00 299.1 611.12 286.2 611.24 290.4 M611.85 274.7 611.97 279.9 612.09 284.2 612.22 287.6 612.34 290.4 612.46 292.6 612.58 294.4 612.70 290.0 M612.95 275.8 613.07 282.6 613.19 287.9 613.31 291.9 M614.04 274.2 614.16 279.9 614.29 284.6 614.41 288.4 614.53 291.6 614.65 294.1 614.77 296.2 614.89 298.0 615.02 299.4 615.14 300.5 615.26 300.2 M615.75 277.6 615.87 282.8 615.99 287.1 616.11 290.5 616.23 293.3 616.36 295.6 616.48 294.6 616.60 297.3 616.72 299.2 616.84 300.3 616.96 301.3 M617.33 274.0 617.45 281.9 617.57 287.8 617.70 287.2 617.82 291.8 617.94 295.1 618.06 289.2 618.18 286.5 618.30 290.0 M619.28 272.9 619.40 278.8 619.52 283.7 619.64 287.7 619.76 291.0 619.89 293.6 620.01 295.8 M620.62 276.2 620.74 281.5 620.86 285.8 620.98 289.3 621.10 292.1 621.23 294.3 621.35 296.1 621.47 297.5 621.59 296.4 621.71 298.2 M621.96 272.1 622.08 280.1 622.20 285.9 622.32 290.4 622.44 293.6 622.57 294.3 622.69 296.4 622.81 297.8 622.93 286.2 623.05 289.0 623.17 292.5 623.30 285.4 M623.78 272.9 623.90 278.5 624.03 283.0 624.15 286.8 624.27 289.8 624.39 292.3 624.51 294.2 624.63 285.5 624.76 288.8 624.88 291.5 625.00 293.6 625.12 295.3 625.24 296.7 625.37 296.8 625.49 298.3 625.61 292.1 625.73 294.9 625.85 296.8 625.97 298.2 626.10 299.2 626.22 299.9 626.34 300.4 626.46 297.8 626.58 282.8 626.70 286.6 626.83 289.6 626.95 284.5 627.07 274.8 627.19 280.0 627.31 284.2 M629.02 276.6 629.14 281.5 629.26 285.5 629.38 288.7 629.50 291.3 629.63 291.9 629.75 287.2 629.87 291.2 629.99 281.7 630.11 287.1 630.24 291.1 630.36 291.1 630.48 294.0 630.60 295.9 630.72 287.5 630.84 291.5 630.97 289.0 631.09 292.6 631.21 295.3 631.33 296.1 631.45 280.2 M632.18 276.5 632.30 281.6 632.43 285.8 M633.04 271.3 633.16 277.4 633.28 282.3 633.40 286.3 633.52 289.5 633.64 292.1 633.77 294.2 633.89 295.9 634.01 289.6 634.13 293.1 634.25 295.6 M634.50 271.4 634.62 277.2 634.74 282.0 634.86 285.9 634.98 289.0 635.11 291.5 635.23 293.5 635.35 295.1 635.47 296.3 635.59 297.3 635.71 298.2 635.84 298.9 635.96 299.5 636.08 300.0 636.20 298.2 636.32 299.3 636.44 299.7 636.57 300.3 636.69 300.8 636.81 299.0 636.93 299.9 637.05 300.6 637.17 301.1 637.30 301.5 637.42 289.1 637.54 292.9 637.66 295.1 637.78 297.2 637.91 298.8 M638.76 275.6 638.88 280.9 639.00 285.2 639.12 288.7 639.24 291.5 M639.61 275.1 639.73 280.4 639.85 284.8 639.98 288.4 640.10 291.2 640.22 293.1 640.34 294.2 640.46 296.6 M640.83 276.7 640.95 281.8 641.07 286.1 641.19 289.6 641.31 292.4 641.44 294.7 641.56 296.6 641.68 298.1 641.80 299.4 641.92 300.4 M642.90 271.6 643.02 277.9 643.14 283.0 643.26 287.1 643.38 290.3 643.51 292.9 643.63 294.9 643.75 296.5 643.87 286.1 643.99 290.2 644.11 293.5 644.24 295.8 644.36 296.3 644.48 297.4 644.60 298.4 644.72 295.9 644.85 293.2 644.97 294.6 645.09 296.1 645.21 296.3 645.33 297.2 645.45 297.7 645.58 290.4 645.70 284.2 M645.94 277.6 646.06 283.9 646.18 288.5 646.31 292.0 646.43 287.9 646.55 288.8 646.67 292.3 646.79 294.9 646.91 296.9 647.04 298.3 647.16 299.1 647.28 291.6 647.40 293.6 647.52 288.4 647.65 290.6 647.77 288.3 647.89 292.1 648.01 295.2 648.13 288.8 648.25 285.4 M648.74 271.2 648.86 277.1 648.98 282.0 649.11 285.9 649.23 289.1 649.35 291.7 649.47 293.7 M650.20 270.7 650.32 276.6 650.45 277.8 650.57 284.1 650.69 274.5 650.81 278.1 650.93 284.3 651.05 285.5 651.18 288.5 651.30 292.0 651.42 294.6 651.54 296.5 651.66 297.8 651.78 289.4 651.91 290.6 652.03 289.9 652.15 293.1 652.27 295.3 652.39 297.0 652.52 298.2 M653.00 274.1 653.12 279.3 653.25 283.5 653.37 287.0 653.49 289.7 M653.85 272.3 653.98 277.7 654.10 282.1 654.22 285.6 654.34 288.5 654.46 290.7 654.59 292.5 654.71 293.9 654.83 295.0 654.95 295.8 655.07 281.9 M655.44 271.3 655.56 278.3 655.68 280.2 655.80 279.3 655.92 280.9 656.05 282.7 656.17 284.1 656.29 288.4 656.41 291.5 656.53 288.1 656.65 291.4 656.78 292.9 656.90 290.2 657.02 292.9 657.14 282.6 657.26 279.2 657.39 284.3 657.51 287.9 657.63 291.3 657.75 293.8 657.87 295.0 657.99 291.3 658.12 293.9 658.24 279.0 658.36 284.9 658.48 289.3 658.60 292.5 658.72 292.3 658.85 293.7 658.97 295.7 659.09 281.1 659.21 276.3 659.33 273.3 M659.70 275.2 659.82 281.8 M661.65 271.6 661.77 277.2 661.89 273.5 M662.62 271.2 662.74 276.9 662.86 281.6 M663.11 271.8 663.23 279.5 663.35 285.3 663.47 289.6 663.59 292.8 M664.08 272.0 664.20 277.6 664.33 282.2 M665.06 271.8 665.18 277.5 665.30 282.2 665.42 286.0 M665.66 271.0 665.79 276.8 665.91 281.6 666.03 285.5 666.15 288.7 666.27 291.2 666.39 293.3 666.52 294.9 666.64 296.2 666.76 297.2 666.88 298.0 M667.25 269.8 667.37 275.8 667.49 280.7 667.61 284.7 667.73 288.0 667.86 290.6 667.98 292.7 668.10 294.0 668.22 290.6 668.34 293.7 668.46 295.8 668.59 275.7 668.71 282.7 668.83 288.0 668.95 288.6 669.07 292.3 669.20 295.1 669.32 297.1 669.44 296.0 669.56 297.9 669.68 299.1 669.80 300.1 669.93 300.9 M670.41 275.0 670.53 280.5 670.66 284.9 670.78 284.5 670.90 288.2 671.02 291.1 671.14 293.5 671.26 295.4 671.39 296.8 671.51 298.0 671.63 298.9 671.75 299.6 671.87 300.1 672.00 300.5 672.12 300.8 672.24 301.0 672.36 301.2 672.48 294.8 672.60 296.8 672.73 298.2 672.85 298.7 672.97 299.5 673.09 294.4 673.21 296.2 673.33 297.4 673.46 298.3 673.58 297.7 673.70 297.2 673.82 291.7 673.94 294.1 674.07 295.8 674.19 297.0 674.31 286.6 674.43 283.0 674.55 287.0 674.67 290.4 674.80 292.6 674.92 293.5 675.04 295.0 675.16 296.1 675.28 277.4 675.40 283.1 675.53 283.3 675.65 287.7 675.77 279.5 675.89 284.0 676.01 286.3 676.13 289.7 676.26 292.5 676.38 293.8 676.50 289.3 676.62 292.3 676.74 294.5 676.87 296.2 676.99 276.5 677.11 281.3 677.23 285.2 677.35 288.4 677.47 291.0 677.60 293.1 677.72 294.8 677.84 294.3 677.96 296.3 678.08 296.4 678.20 296.1 678.33 297.5 678.45 295.1 678.57 296.7 678.69 297.8 678.81 296.3 678.93 291.8 679.06 294.2 679.18 296.0 679.30 285.6 679.42 289.7 679.54 279.4 679.67 285.0 679.79 289.2 679.91 292.1 680.03 291.9 680.15 277.2 680.27 282.8 680.40 286.3 680.52 290.0 680.64 292.7 680.76 291.5 680.88 293.4 M681.13 270.1 681.25 279.5 681.37 287.4 681.49 283.9 681.61 273.2 681.74 275.2 M683.80 282.7 683.93 285.9 M684.29 274.7 684.41 279.9 684.54 284.2 684.66 287.5 684.78 289.3 684.90 279.9 685.02 273.3 685.14 276.9 685.27 283.8 685.39 289.0 685.51 292.2 M685.75 270.5 685.87 276.8 686.00 282.0 686.12 286.3 686.24 289.9 686.36 291.7 686.48 295.2 686.61 296.4 686.73 298.7 686.85 300.0 686.97 300.2 687.09 301.6 687.21 297.0 687.34 299.4 M687.82 270.1 687.94 276.9 688.07 282.5 688.19 287.0 688.31 290.7 M688.80 271.4 688.92 277.8 689.04 283.0 689.16 287.3 689.28 288.5 689.41 293.0 689.53 295.9 689.65 297.7 689.77 284.3 689.89 289.8 690.01 291.5 690.14 294.9 690.26 289.2 690.38 269.4 690.50 275.9 690.62 281.3 690.74 285.6 690.87 289.2 690.99 292.1 691.11 290.4 691.23 273.4 691.35 281.3 691.48 286.2 691.60 281.7 691.72 287.5 691.84 291.7 691.96 271.9 692.08 277.8 692.21 282.6 692.33 286.5 692.45 289.6 M692.81 274.2 692.94 279.5 693.06 283.9 693.18 287.5 693.30 290.4 693.42 292.8 693.54 294.7 693.67 294.5 693.79 290.9 693.91 294.0 694.03 296.3 694.15 297.9 694.28 299.0 694.40 299.8 694.52 286.5 694.64 289.6 694.76 293.1 694.88 294.1 695.01 285.1 695.13 289.8 695.25 293.2 695.37 292.4 695.49 287.8 695.61 291.8 695.74 280.4 695.86 279.7 695.98 284.8 M696.59 273.3 696.71 279.1 696.83 284.0 696.95 287.9 697.08 291.2 697.20 293.9 697.32 296.0 697.44 297.8 697.56 299.2 697.68 300.4 697.81 301.3 697.93 302.1 698.05 302.3 698.17 302.9 698.29 303.2 698.41 303.4 698.54 298.9 698.66 299.9 698.78 301.0 698.90 290.8 M700.97 283.5 701.09 277.6 701.22 282.4 701.34 292.1 701.46 290.1 701.58 286.7 M702.43 269.5 702.55 278.6 702.68 290.8 702.80 279.5 702.92 275.8 703.04 284.2 M704.02 283.4 704.14 281.5 704.26 282.8 704.38 287.3 704.50 286.6 704.62 294.3 704.75 289.4 704.87 278.2 704.99 285.7 705.11 279.0 M705.72 279.7 705.84 285.7 705.96 270.4 706.09 275.8 706.21 280.9 706.33 285.0 706.45 288.4 M706.82 272.1 706.94 277.8 707.06 282.5 707.18 286.4 707.30 280.5 707.42 284.7 707.55 288.1 707.67 290.9 707.79 293.1 707.91 294.8 708.03 296.3 708.15 297.4 708.28 298.3 708.40 299.1 708.52 282.7 M709.37 274.6 709.49 279.9 M709.98 273.4 710.10 279.0 710.22 283.6 710.35 287.3 710.47 290.4 710.59 292.8 710.71 293.9 710.83 293.7 710.96 291.3 711.08 293.4 711.20 295.9 711.32 294.1 711.44 295.6 711.56 297.4 711.69 298.7 711.81 275.9 711.93 282.8 712.05 288.0 712.17 291.3 712.29 294.2 712.42 296.0 712.54 297.6 712.66 282.1 712.78 287.1 712.90 280.7 M713.88 276.9 714.00 282.6 714.12 278.4 714.24 281.3 M714.49 284.4 714.61 279.0 714.73 289.6 714.85 285.8 714.97 286.2 715.09 292.5 715.22 276.0 715.34 273.4 715.46 281.3 M715.95 283.7 716.07 272.6 716.19 277.4 716.31 282.5 716.43 287.8 716.56 289.9 716.68 292.4 716.80 296.2 716.92 291.7 717.04 285.2 717.16 282.6 717.29 281.0 717.41 284.7 M719.84 272.1 719.96 277.5 720.09 282.0 720.21 285.7 720.33 288.6 720.45 291.1 720.57 292.3 720.70 294.2 720.82 291.1 720.94 293.5 721.06 295.1 721.18 291.8 M721.55 271.2 721.67 276.6 721.79 281.1 721.91 284.6 722.03 287.1 722.16 288.7 722.28 287.8 722.40 290.9 722.52 293.0 722.64 294.6 722.76 292.9 722.89 294.4 723.01 295.5 723.13 296.4 723.25 284.3 723.37 288.4 723.50 278.0 723.62 270.0 723.74 275.7 723.86 280.4 723.98 284.3 724.10 287.5 724.23 290.1 724.35 292.1 724.47 293.8 724.59 295.2 724.71 296.3 724.83 296.7 724.96 297.8 725.08 298.5 725.20 298.6 725.32 299.2 725.44 299.7 725.57 299.9 725.69 299.9 725.81 293.4 725.93 295.2 726.05 290.7 726.17 293.1 726.30 294.9 726.42 293.9 726.54 295.3 726.66 296.2 726.78 296.8 726.90 296.0 727.03 277.0 727.15 281.1 727.27 284.4 727.39 287.1 727.51 289.2 M727.76 273.6 727.88 278.2 728.00 281.8" fill="none" stroke="#d9202e" stroke-width="0.45" stroke-linejoin="round"/>
<path d="M58.5 315.0 60.4 312.6 62.4 310.2 64.3 307.9 66.3 305.5 68.2 303.1 70.2 300.5 72.1 297.9 74.1 295.2 76.0 292.6 78.0 290.0 79.9 287.7 81.9 285.3 83.8 283.0 85.8 280.7 87.7 278.3 89.7 275.8 91.6 273.3 93.6 270.8 95.5 268.2 97.5 265.7 99.4 263.3 101.4 261.0 103.3 258.6 105.3 256.3 107.2 254.0 109.1 251.9 111.1 250.1 113.0 248.3 115.0 246.4 116.9 244.6 118.9 243.0 120.8 241.7 122.8 240.4 124.7 239.2 126.7 237.9 128.6 236.8 130.6 236.3 132.5 235.8 134.5 235.3 136.4 234.7 138.4 234.3 140.3 234.1 142.3 233.9 144.2 233.8 146.2 234.0 148.1 234.3 150.1 234.5 152.0 234.7 154.0 235.4 155.9 236.2 157.8 236.9 159.8 238.1 161.7 239.2 163.7 240.4 165.6 241.6 167.6 242.8 169.5 244.2 171.5 245.8 173.4 247.3 175.4 248.9 177.3 250.5 179.3 252.4 181.2 254.5 183.2 256.7 185.1 258.8 187.1 261.0 189.0 263.0 191.0 265.0 192.9 266.9 194.9 268.9 196.8 270.8 198.8 272.7 200.7 274.5 202.7 276.4 204.6 278.2 206.5 280.0 208.5 281.8 210.4 283.2 212.4 284.6 214.3 286.0 216.3 287.4 218.2 288.7 220.2 289.8 222.1 290.8 224.1 291.9 226.0 292.9 228.0 294.0 229.9 294.8 231.9 295.5 233.8 296.3 235.8 297.1 237.7 297.9 239.7 298.4 241.6 298.9 243.6 299.3 245.5 299.8 247.5 300.3 249.4 300.6 251.4 300.8 253.3 301.0 255.2 301.3 257.2 301.5 259.1 301.7 261.1 301.8 263.0 301.9 265.0 302.0 266.9 302.1 268.9 302.2 270.8 302.1 272.8 302.1 274.7 302.1 276.7 302.0 278.6 301.9 280.6 301.7 282.5 301.5 284.5 301.4 286.4 301.2 288.4 300.9 290.3 300.4 292.3 300.0 294.2 299.5 296.2 299.0 298.1 298.6 300.1 297.9 302.0 297.2 303.9 296.5 305.9 295.8 307.8 295.1 309.8 294.1 311.7 293.1 313.7 292.2 315.6 291.2 317.6 290.2 319.5 289.2 321.5 288.1 323.4 287.1 325.4 286.0 327.3 285.0 329.3 283.9 331.2 282.8 333.2 281.7 335.1 280.6 337.1 279.5 339.0 278.5 341.0 277.4 342.9 276.4 344.9 275.3 346.8 274.2 348.8 273.2 350.7 272.3 352.6 271.4 354.6 270.4 356.5 269.5 358.5 268.6 360.4 267.6 362.4 266.7 364.3 265.8 366.3 264.8 368.2 263.9 370.2 263.2 372.1 262.5 374.1 261.8 376.0 261.1 378.0 260.4 379.9 259.9 381.9 259.5 383.8 259.0 385.8 258.5 387.7 258.1 389.7 257.8 391.6 257.5 393.6 257.2 395.5 256.9 397.5 256.7 399.4 256.5 401.3 256.4 403.3 256.3 405.2 256.2 407.2 256.0 409.1 256.0 411.1 256.1 413.0 256.2 415.0 256.3 416.9 256.4 418.9 256.5 420.8 256.7 422.8 257.0 424.7 257.2 426.7 257.4 428.6 257.7 430.6 258.1 432.5 258.5 434.5 258.9 436.4 259.3 438.4 259.7 440.3 260.2 442.3 260.6 444.2 261.1 446.2 261.6 448.1 262.0 450.0 262.6 452.0 263.2 453.9 263.8 455.9 264.4 457.8 265.0 459.8 265.6 461.7 266.3 463.7 266.9 465.6 267.6 467.6 268.3 469.5 268.8 471.5 269.3 473.4 269.8 475.4 270.3 477.3 270.8 479.3 271.3 481.2 271.8 483.2 272.2 485.1 272.7 487.1 273.2 489.0 273.6 491.0 274.0 492.9 274.4 494.8 274.8 496.8 275.2 498.7 275.5 500.7 275.7 502.6 275.9 504.6 276.1 506.5 276.3 508.5 276.6 510.4 276.8 512.4 277.0 514.3 277.2 516.3 277.4 518.2 277.6 520.2 277.8 522.1 278.0 524.1 278.2 526.0 278.4 528.0 278.6 529.9 278.7 531.9 278.9 533.8 279.0 535.8 279.1 537.7 279.3 539.7 279.4 541.6 279.6 543.5 279.7 545.5 279.8 547.4 280.0 549.4 280.0 551.3 280.1 553.3 280.1 555.2 280.1 557.2 280.2 559.1 280.2 561.1 280.1 563.0 280.0 565.0 279.9 566.9 279.8 568.9 279.7 570.8 279.6 572.8 279.5 574.7 279.4 576.7 279.3 578.6 279.2 580.6 279.0 582.5 278.9 584.5 278.8 586.4 278.7 588.4 278.6 590.3 278.4 592.2 278.3 594.2 278.2 596.1 278.0 598.1 277.9 600.0 277.8 602.0 277.6 603.9 277.5 605.9 277.3 607.8 277.2 609.8 277.1 611.7 277.1 613.7 277.0 615.6 276.9 617.6 276.8 619.5 276.7 621.5 276.7 623.4 276.6 625.4 276.5 627.3 276.4 629.3 276.3 631.2 276.3 633.2 276.2 635.1 276.1 637.1 276.0 639.0 276.0 640.9 275.9 642.9 275.8 644.8 275.7 646.8 275.6 648.7 275.6 650.7 275.5 652.6 275.4 654.6 275.3 656.5 275.2 658.5 275.1 660.4 275.1 662.4 275.0 664.3 274.9 666.3 274.8 668.2 274.7 670.2 274.6 672.1 274.5 674.1 274.5 676.0 274.4 678.0 274.3 679.9 274.2 681.9 274.2 683.8 274.1 685.8 274.1 687.7 274.0 689.6 274.0 691.6 274.0 693.5 273.9 695.5 273.9 697.4 273.8 699.4 273.8 701.3 273.8 703.3 273.7 705.2 273.7 707.2 273.6 709.1 273.6 711.1 273.6 713.0 273.5 715.0 273.5 716.9 273.4 718.9 273.4 720.8 273.3 722.8 273.3 724.7 273.3 726.7 273.2 728.0 273.2" fill="none" stroke="#d3ac3a" stroke-width="0.8" stroke-linejoin="round"/>

<rect x="58.5" y="14.5" width="670" height="360" fill="none" stroke="#c6c6c6" stroke-width="1" shape-rendering="crispEdges"/>
<text x="51.4" y="378.9" text-anchor="end" fill="#d9202e" letter-spacing="0.21">0%</text>
<text x="51.4" y="306.9" text-anchor="end" fill="#d9202e" letter-spacing="0.21">50%</text>
<text x="51.4" y="234.9" text-anchor="end" fill="#d9202e" letter-spacing="0.21">100%</text>
<text x="51.4" y="162.9" text-anchor="end" fill="#d9202e" letter-spacing="0.21">150%</text>
<text x="51.4" y="90.9" text-anchor="end" fill="#d9202e" letter-spacing="0.21">200%</text>
<text x="51.4" y="18.9" text-anchor="end" fill="#d9202e" letter-spacing="0.21">250%</text>
<text x="75.1" y="391" text-anchor="middle" fill="#000" letter-spacing="0.21">1998</text>
<text x="137.1" y="391" text-anchor="middle" fill="#000" letter-spacing="0.21">2000</text>
<text x="198.1" y="391" text-anchor="middle" fill="#000" letter-spacing="0.21">2002</text>
<text x="259.1" y="391" text-anchor="middle" fill="#000" letter-spacing="0.21">2004</text>
<text x="320.1" y="391" text-anchor="middle" fill="#000" letter-spacing="0.21">2006</text>
<text x="381.1" y="391" text-anchor="middle" fill="#000" letter-spacing="0.21">2008</text>
<text x="443.1" y="391" text-anchor="middle" fill="#000" letter-spacing="0.21">2010</text>
<text x="504.1" y="391" text-anchor="middle" fill="#000" letter-spacing="0.21">2012</text>
<text x="565.1" y="391" text-anchor="middle" fill="#000" letter-spacing="0.21">2014</text>
<text x="626.1" y="391" text-anchor="middle" fill="#000" letter-spacing="0.21">2016</text>
<text x="688.1" y="391" text-anchor="middle" fill="#000" letter-spacing="0.21">2018</text>
<text x="740" y="9.4" text-anchor="end" fill="#000" letter-spacing="0.09">V-Lab (2026)</text>
<text transform="translate(15.8,194.6) rotate(-90)" text-anchor="middle" fill="#000" letter-spacing="0.08">Annualized Volatility</text>
<rect x="65.5" y="344.5" width="453" height="25" fill="#fff" stroke="#000" stroke-width="1" shape-rendering="crispEdges"/>
<text y="355" fill="#000"><tspan x="162.00" letter-spacing="0.15">Highlands </tspan><tspan x="220.40" letter-spacing="0.03">Pacific </tspan><tspan x="258.40" letter-spacing="-0.3">Ltd </tspan><tspan x="278.10">- </tspan><tspan x="284.70">Zero </tspan><tspan x="312.90" letter-spacing="0.17">Slope </tspan><tspan x="347.20" letter-spacing="0.19">Spline-</tspan><tspan x="384.70" letter-spacing="-0.3">GARCH </tspan><tspan x="424.70" letter-spacing="-0.14">Volatility</tspan></text>
<text y="367" fill="#000"><tspan x="178.00" letter-spacing="0.15">Highlands </tspan><tspan x="236.20" letter-spacing="0.03">Pacific </tspan><tspan x="274.00" letter-spacing="-0.3">Ltd </tspan><tspan x="293.90">- </tspan><tspan x="300.40">Zero </tspan><tspan x="328.70" letter-spacing="0.17">Slope </tspan><tspan x="363.20" letter-spacing="0.19">Spline-</tspan><tspan x="401.00" letter-spacing="-0.3">GARCH </tspan><tspan x="440.90">Trend</tspan></text>
<line x1="478" y1="350.5" x2="512" y2="350.5" stroke="#d9202e" stroke-width="0.7"/>
<line x1="478" y1="363.5" x2="512" y2="363.5" stroke="#d4aa3c" stroke-width="0.7"/>
</svg>
</body></html>
